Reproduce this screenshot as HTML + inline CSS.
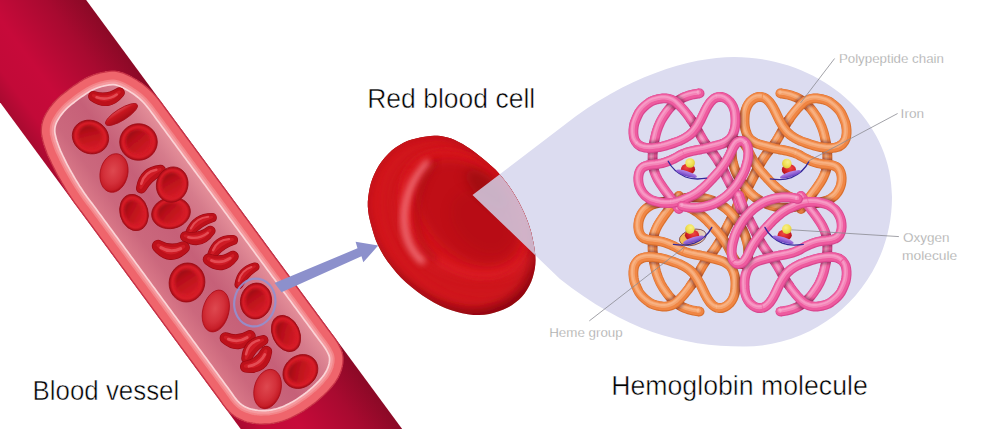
<!DOCTYPE html>
<html><head><meta charset="utf-8"><title>Hemoglobin</title>
<style>html,body{margin:0;padding:0;background:#fff}svg{display:block}text{font-family:"Liberation Sans",sans-serif}</style></head>
<body><svg width="1000" height="429" viewBox="0 0 1000 429">
<rect width="1000" height="429" fill="#fff"/>
<defs>
<linearGradient id="vbody" x1="0" y1="-65" x2="0" y2="65" gradientUnits="userSpaceOnUse">
 <stop offset="0" stop-color="#8b0926"/><stop offset="0.25" stop-color="#a80a30"/>
 <stop offset="0.62" stop-color="#c70a3a"/><stop offset="0.85" stop-color="#c20a38"/><stop offset="1" stop-color="#a80a30"/>
</linearGradient>
<linearGradient id="lumen" x1="0" y1="-51" x2="0" y2="51" gradientUnits="userSpaceOnUse">
 <stop offset="0" stop-color="#e48e99"/><stop offset="0.15" stop-color="#d67c8c"/>
 <stop offset="0.5" stop-color="#c66078"/><stop offset="0.82" stop-color="#cb687d"/><stop offset="1" stop-color="#d97888"/>
</linearGradient>
<linearGradient id="wall" x1="0" y1="-65" x2="0" y2="65" gradientUnits="userSpaceOnUse">
 <stop offset="0" stop-color="#f0696f"/><stop offset="0.5" stop-color="#f27a80"/><stop offset="1" stop-color="#ef666d"/>
</linearGradient>
<radialGradient id="disc" cx="0.5" cy="0.5" r="0.5">
 <stop offset="0" stop-color="#d21a25"/><stop offset="0.84" stop-color="#d61c27"/><stop offset="1" stop-color="#a40a15"/>
</radialGradient>
<linearGradient id="dimple" x1="0.15" y1="0.1" x2="0.85" y2="0.9">
 <stop offset="0" stop-color="#98070f"/><stop offset="0.3" stop-color="#b60f19"/><stop offset="0.65" stop-color="#c4141e"/><stop offset="1" stop-color="#d21b26"/>
</linearGradient>
<radialGradient id="oval" cx="0.45" cy="0.45" r="0.55">
 <stop offset="0" stop-color="#de484f"/><stop offset="0.6" stop-color="#d3303a"/><stop offset="0.9" stop-color="#c61e28"/><stop offset="1" stop-color="#b0111b"/>
</radialGradient>
<linearGradient id="bean" x1="0" y1="0" x2="0" y2="1">
 <stop offset="0" stop-color="#e04650"/><stop offset="0.35" stop-color="#c8161f"/><stop offset="1" stop-color="#a50c16"/>
</linearGradient>
<radialGradient id="bigcell" cx="448" cy="205" r="100" gradientUnits="userSpaceOnUse">
 <stop offset="0" stop-color="#d0141e"/><stop offset="0.6" stop-color="#d0141e"/><stop offset="0.85" stop-color="#b80e18"/><stop offset="1" stop-color="#8e0812"/>
</radialGradient>
<linearGradient id="bigshade" x1="400" y1="150" x2="530" y2="290" gradientUnits="userSpaceOnUse">
 <stop offset="0" stop-color="#e8303a" stop-opacity="0.35"/><stop offset="0.4" stop-color="#d0141e" stop-opacity="0"/>
 <stop offset="0.8" stop-color="#7a0610" stop-opacity="0.25"/><stop offset="1" stop-color="#6a040c" stop-opacity="0.6"/>
</linearGradient>
<radialGradient id="bigdimple" cx="470" cy="215" r="58" gradientUnits="userSpaceOnUse">
 <stop offset="0" stop-color="#b40e18"/><stop offset="0.7" stop-color="#bc1019"/><stop offset="1" stop-color="#cc141e" stop-opacity="0"/>
</radialGradient>
<filter id="b1" x="-0.2" y="-0.2" width="1.4" height="1.4"><feGaussianBlur stdDeviation="1.2"/></filter>
<radialGradient id="redball" cx="0.4" cy="0.35" r="0.7"><stop offset="0" stop-color="#ee4a44"/><stop offset="0.55" stop-color="#d8222a"/><stop offset="1" stop-color="#a81018"/></radialGradient>
<radialGradient id="yelball" cx="0.4" cy="0.35" r="0.7"><stop offset="0" stop-color="#f8f08a"/><stop offset="0.6" stop-color="#f0e050"/><stop offset="1" stop-color="#d8c23a"/></radialGradient>
<linearGradient id="purp" x1="0" y1="0" x2="0" y2="1"><stop offset="0" stop-color="#b68aea"/><stop offset="0.5" stop-color="#9466d6"/><stop offset="1" stop-color="#6a3fc0"/></linearGradient>
<linearGradient id="ringf" x1="0" y1="0" x2="1" y2="0"><stop offset="0" stop-color="#f0b860" stop-opacity="0.2"/><stop offset="0.6" stop-color="#f2a94a" stop-opacity="0.9"/><stop offset="1" stop-color="#f6c050"/></linearGradient>
</defs>
<path d="M472.5,195 L565,124.5 C625,77 690,57 734,57 C820,57 892,118 892,197 C892,280 826,346.5 744,346.5 C680,346.5 625,330 560,279 Z" fill="#dcdcf0"/>
<g transform="translate(43.0,51.0) rotate(53.625)">
<rect x="-200" y="-65" width="900" height="130" fill="url(#vbody)"/>
<defs><path id="win" d="M149.5,64.5 146.8,64.5 143.9,64.5 141.0,64.5 138.0,64.4 135.0,64.3 132.0,64.1 129.0,64.0 126.0,63.7 123.0,63.5 120.1,63.2 117.1,62.9 114.1,62.5 111.1,62.2 108.1,61.8 105.2,61.4 102.2,60.9 99.3,60.4 96.3,59.9 93.4,59.3 90.4,58.7 87.5,58.1 84.6,57.4 81.7,56.6 78.8,55.7 76.0,54.8 73.2,53.8 70.4,52.6 67.7,51.4 65.1,50.0 62.7,48.3 60.4,46.4 58.3,44.3 56.4,42.0 54.7,39.6 53.3,37.1 52.0,34.4 50.9,31.6 49.8,28.8 49.0,25.9 48.2,23.1 47.6,20.1 47.1,17.2 46.7,14.2 46.5,11.2 46.3,8.2 46.3,5.2 46.2,2.2 46.2,-0.7 46.2,-3.7 46.4,-6.7 46.5,-9.7 46.7,-12.7 47.0,-15.7 47.4,-18.7 48.0,-21.6 48.7,-24.5 49.5,-27.4 50.5,-30.2 51.6,-33.0 52.8,-35.7 54.1,-38.4 55.5,-41.0 57.1,-43.5 58.9,-45.9 60.9,-48.0 63.2,-49.9 65.6,-51.6 68.2,-53.1 70.8,-54.6 73.5,-55.9 76.2,-57.1 79.0,-58.3 81.8,-59.3 84.6,-60.4 87.4,-61.2 90.3,-62.0 93.3,-62.7 96.2,-63.2 99.2,-63.7 102.1,-64.0 105.1,-64.2 108.1,-64.3 111.1,-64.4 114.1,-64.4 117.1,-64.4 120.1,-64.4 123.1,-64.4 126.1,-64.4 129.1,-64.4 132.1,-64.4 135.1,-64.4 138.1,-64.4 141.1,-64.4 144.1,-64.4 147.1,-64.4 150.1,-64.4 153.1,-64.4 156.1,-64.4 159.1,-64.4 162.1,-64.4 165.1,-64.4 168.1,-64.4 171.1,-64.4 174.1,-64.4 177.1,-64.4 180.1,-64.4 183.1,-64.4 186.1,-64.4 189.1,-64.4 192.1,-64.4 195.1,-64.4 198.1,-64.4 201.1,-64.4 204.1,-64.4 207.1,-64.4 210.1,-64.4 213.1,-64.4 216.1,-64.4 219.1,-64.4 222.1,-64.4 225.1,-64.4 228.1,-64.4 231.1,-64.4 234.1,-64.4 237.1,-64.4 240.1,-64.4 243.1,-64.4 246.1,-64.4 249.1,-64.4 252.1,-64.4 255.1,-64.4 258.1,-64.4 261.1,-64.4 264.1,-64.4 267.1,-64.4 270.1,-64.4 273.1,-64.4 276.1,-64.4 279.1,-64.4 282.1,-64.4 285.1,-64.4 288.1,-64.4 291.1,-64.4 294.1,-64.4 297.1,-64.4 300.1,-64.4 303.1,-64.4 306.1,-64.4 309.1,-64.4 312.1,-64.4 315.1,-64.4 318.1,-64.4 321.1,-64.4 324.1,-64.4 327.1,-64.4 330.1,-64.4 333.1,-64.4 336.1,-64.4 339.1,-64.4 342.1,-64.4 345.1,-64.4 348.1,-64.4 351.1,-64.4 354.1,-64.4 357.1,-64.4 360.1,-64.4 363.1,-64.4 366.1,-64.4 369.1,-64.4 372.1,-64.4 375.1,-64.4 378.1,-64.4 381.1,-64.4 384.1,-64.4 387.1,-64.4 390.1,-64.4 393.1,-64.4 396.1,-64.4 399.1,-64.4 402.1,-64.5 405.1,-64.4 408.1,-64.3 411.1,-64.0 414.0,-63.6 416.9,-63.0 419.8,-62.2 422.5,-61.0 425.0,-59.6 427.4,-57.8 429.6,-55.9 431.6,-53.7 433.5,-51.4 435.2,-49.0 436.7,-46.4 438.1,-43.7 439.2,-41.0 440.3,-38.2 441.1,-35.3 441.8,-32.4 442.5,-29.5 443.0,-26.6 443.4,-23.6 443.8,-20.6 444.0,-17.6 444.3,-14.7 444.5,-11.7 444.6,-8.7 444.6,-5.7 444.5,-2.7 444.4,0.3 444.3,3.3 444.0,6.3 443.7,9.3 443.3,12.2 442.8,15.2 442.3,18.1 441.6,21.1 440.8,23.9 439.9,26.8 438.9,29.6 437.7,32.3 436.5,35.0 435.0,37.7 433.5,40.2 431.8,42.7 430.1,45.2 428.2,47.5 426.2,49.7 424.1,51.8 421.9,53.9 419.7,55.8 417.2,57.5 414.7,59.0 412.1,60.5 409.4,61.7 406.6,62.7 403.7,63.5 400.8,64.0 397.9,64.4 394.9,64.5 391.9,64.6 388.9,64.5 385.9,64.4 382.9,64.4 379.9,64.4 376.9,64.4 373.9,64.4 370.9,64.4 367.9,64.4 364.9,64.4 361.9,64.4 358.9,64.4 355.9,64.4 352.9,64.4 349.9,64.4 346.9,64.4 343.9,64.4 340.9,64.4 337.9,64.4 334.9,64.4 331.9,64.4 328.9,64.4 325.9,64.4 322.9,64.4 319.9,64.4 316.9,64.4 313.9,64.4 310.9,64.4 307.9,64.4 304.9,64.4 301.9,64.4 298.9,64.4 295.9,64.4 292.9,64.4 289.9,64.4 286.9,64.4 283.9,64.4 280.9,64.4 277.9,64.4 274.9,64.4 271.9,64.4 268.9,64.4 265.9,64.4 262.9,64.4 259.9,64.4 256.9,64.4 253.9,64.4 250.9,64.4 247.9,64.4 244.9,64.4 241.9,64.4 238.9,64.4 235.9,64.4 232.9,64.4 229.9,64.4 226.9,64.4 223.9,64.4 220.9,64.4 217.9,64.4 214.9,64.4 211.9,64.4 208.9,64.4 205.9,64.4 202.9,64.4 199.9,64.4 196.9,64.4 193.9,64.4 190.9,64.4 187.9,64.4 184.9,64.4 181.9,64.4 178.9,64.4 175.9,64.4 172.9,64.4 169.9,64.4 166.9,64.4 163.9,64.4 160.9,64.4 157.9,64.4 155.0,64.4 152.2,64.4Z"/><clipPath id="wclip"><use href="#win"/></clipPath></defs>
<use href="#win" fill="url(#lumen)"/>
<g clip-path="url(#wclip)" fill="none" stroke-linejoin="round">
<use href="#win" stroke="#fbd3d6" stroke-width="28.6"/>
<use href="#win" stroke="#f59a9f" stroke-width="25.2"/>
<use href="#win" stroke="#f38589" stroke-width="20.5"/>
<use href="#win" stroke="#ef656c" stroke-width="16.8"/>
</g>
<use href="#win" fill="none" stroke="#c83246" stroke-width="1.3"/>
</g>
<g transform="translate(107.0,98.5) rotate(-8.0)" stroke-linejoin="round" stroke-linecap="round"><path d="M-13.1,-4.0 Q0,2.1 13.1,-4.0 Q0,8.3 -13.1,-4.0 Z" fill="#9a0812" stroke="#9a0812" stroke-width="10.7"/><path d="M-13.1,-4.0 Q0,2.1 13.1,-4.0 Q0,8.3 -13.1,-4.0 Z" fill="#bd111b" stroke="#bd111b" stroke-width="9.5"/><path d="M-13.1,-4.0 Q0,2.1 13.1,-4.0 Q0,8.3 -13.1,-4.0 Z" fill="#cf1c26" stroke="#cf1c26" stroke-width="2.9" transform="translate(0,-0.8)"/><path d="M-10.2,-2.6 Q0,2.4 10.2,-2.6" fill="none" stroke="#e8555d" stroke-width="2.6" opacity="0.85"/></g>
<ellipse transform="translate(121.5,114.5) rotate(-32.0)" rx="18.5" ry="5.8" fill="url(#bean)" stroke="#a80c18" stroke-width="0.8"/>
<g transform="translate(90.5,137.0) rotate(25.0)"><ellipse rx="18.5" ry="16.5" fill="url(#disc)" stroke="#9c0a14" stroke-width="0.8"/><ellipse cx="-0.6" cy="-0.3" rx="12.2" ry="10.9" fill="url(#dimple)" filter="url(#b1)"/></g>
<g transform="translate(138.5,142.0) rotate(0.0)"><ellipse rx="18.8" ry="18.3" fill="url(#disc)" stroke="#9c0a14" stroke-width="0.8"/><ellipse cx="-0.6" cy="-0.4" rx="12.4" ry="12.1" fill="url(#dimple)" filter="url(#b1)"/></g>
<ellipse transform="translate(114.0,173.0) rotate(12.0)" rx="13.8" ry="19.5" fill="url(#oval)" stroke="#ac0e1a" stroke-width="0.8"/>
<g transform="translate(149.0,177.0) rotate(-43.0)" stroke-linejoin="round" stroke-linecap="round"><path d="M-13.2,2.9 Q0,-7.2 13.2,2.9 Q0,-1.1 -13.2,2.9 Z" fill="#9a0812" stroke="#9a0812" stroke-width="10.6"/><path d="M-13.2,2.9 Q0,-7.2 13.2,2.9 Q0,-1.1 -13.2,2.9 Z" fill="#bd111b" stroke="#bd111b" stroke-width="9.4"/><path d="M-13.2,2.9 Q0,-7.2 13.2,2.9 Q0,-1.1 -13.2,2.9 Z" fill="#cf1c26" stroke="#cf1c26" stroke-width="2.9" transform="translate(0,-0.8)"/><path d="M-10.3,-0.3 Q0,-6.9 10.3,-0.3" fill="none" stroke="#e8555d" stroke-width="2.5" opacity="0.85"/></g>
<g transform="translate(171.0,213.0) rotate(-12.0)"><ellipse rx="19.5" ry="15.5" fill="url(#disc)" stroke="#9c0a14" stroke-width="0.8"/><ellipse cx="-0.6" cy="-0.3" rx="12.9" ry="10.2" fill="url(#dimple)" filter="url(#b1)"/></g>
<g transform="translate(172.2,184.6) rotate(15.0)"><ellipse rx="15.7" ry="17.8" fill="url(#disc)" stroke="#9c0a14" stroke-width="0.8"/><ellipse cx="-0.5" cy="-0.4" rx="10.4" ry="11.7" fill="url(#dimple)" filter="url(#b1)"/></g>
<g transform="translate(134.0,212.5) rotate(-15.0)"><ellipse rx="14.0" ry="18.5" fill="url(#disc)" stroke="#9c0a14" stroke-width="0.8"/><ellipse cx="-0.4" cy="-0.4" rx="9.2" ry="12.2" fill="url(#dimple)" filter="url(#b1)"/></g>
<g transform="translate(199.6,222.8) rotate(-33.7)" stroke-linejoin="round" stroke-linecap="round"><path d="M-13.4,2.7 Q0,-6.3 13.4,2.7 Q0,-1.2 -13.4,2.7 Z" fill="#9a0812" stroke="#9a0812" stroke-width="9.2"/><path d="M-13.4,2.7 Q0,-6.3 13.4,2.7 Q0,-1.2 -13.4,2.7 Z" fill="#bd111b" stroke="#bd111b" stroke-width="8.0"/><path d="M-13.4,2.7 Q0,-6.3 13.4,2.7 Q0,-1.2 -13.4,2.7 Z" fill="#cf1c26" stroke="#cf1c26" stroke-width="2.4" transform="translate(0,-0.6)"/><path d="M-10.5,-0.2 Q0,-6.1 10.5,-0.2" fill="none" stroke="#e8555d" stroke-width="2.1" opacity="0.85"/></g>
<g transform="translate(198.6,237.5) rotate(-12.6)" stroke-linejoin="round" stroke-linecap="round"><path d="M-12.9,-3.9 Q0,2.1 12.9,-3.9 Q0,8.0 -12.9,-3.9 Z" fill="#9a0812" stroke="#9a0812" stroke-width="10.3"/><path d="M-12.9,-3.9 Q0,2.1 12.9,-3.9 Q0,8.0 -12.9,-3.9 Z" fill="#bd111b" stroke="#bd111b" stroke-width="9.1"/><path d="M-12.9,-3.9 Q0,2.1 12.9,-3.9 Q0,8.0 -12.9,-3.9 Z" fill="#cf1c26" stroke="#cf1c26" stroke-width="2.8" transform="translate(0,-0.7)"/><path d="M-10.0,-2.5 Q0,2.3 10.0,-2.5" fill="none" stroke="#e8555d" stroke-width="2.4" opacity="0.85"/></g>
<g transform="translate(170.6,251.0) rotate(3.0)" stroke-linejoin="round" stroke-linecap="round"><path d="M-12.7,-4.2 Q0,2.0 12.7,-4.2 Q0,9.4 -12.7,-4.2 Z" fill="#9a0812" stroke="#9a0812" stroke-width="12.6"/><path d="M-12.7,-4.2 Q0,2.0 12.7,-4.2 Q0,9.4 -12.7,-4.2 Z" fill="#bd111b" stroke="#bd111b" stroke-width="11.4"/><path d="M-12.7,-4.2 Q0,2.0 12.7,-4.2 Q0,9.4 -12.7,-4.2 Z" fill="#cf1c26" stroke="#cf1c26" stroke-width="3.5" transform="translate(0,-0.9)"/><path d="M-9.9,-2.9 Q0,2.4 9.9,-2.9" fill="none" stroke="#e8555d" stroke-width="3.1" opacity="0.85"/></g>
<g transform="translate(221.2,244.9) rotate(-34.7)" stroke-linejoin="round" stroke-linecap="round"><path d="M-12.5,2.7 Q0,-6.7 12.5,2.7 Q0,-1.0 -12.5,2.7 Z" fill="#9a0812" stroke="#9a0812" stroke-width="10.1"/><path d="M-12.5,2.7 Q0,-6.7 12.5,2.7 Q0,-1.0 -12.5,2.7 Z" fill="#bd111b" stroke="#bd111b" stroke-width="8.9"/><path d="M-12.5,2.7 Q0,-6.7 12.5,2.7 Q0,-1.0 -12.5,2.7 Z" fill="#cf1c26" stroke="#cf1c26" stroke-width="2.7" transform="translate(0,-0.7)"/><path d="M-9.7,-0.3 Q0,-6.5 9.7,-0.3" fill="none" stroke="#e8555d" stroke-width="2.4" opacity="0.85"/></g>
<g transform="translate(221.2,262.0) rotate(-7.0)" stroke-linejoin="round" stroke-linecap="round"><path d="M-12.2,-4.0 Q0,2.0 12.2,-4.0 Q0,8.7 -12.2,-4.0 Z" fill="#9a0812" stroke="#9a0812" stroke-width="11.7"/><path d="M-12.2,-4.0 Q0,2.0 12.2,-4.0 Q0,8.7 -12.2,-4.0 Z" fill="#bd111b" stroke="#bd111b" stroke-width="10.5"/><path d="M-12.2,-4.0 Q0,2.0 12.2,-4.0 Q0,8.7 -12.2,-4.0 Z" fill="#cf1c26" stroke="#cf1c26" stroke-width="3.2" transform="translate(0,-0.8)"/><path d="M-9.5,-2.7 Q0,2.2 9.5,-2.7" fill="none" stroke="#e8555d" stroke-width="2.8" opacity="0.85"/></g>
<g transform="translate(187.0,282.5) rotate(12.0)"><ellipse rx="17.8" ry="19.6" fill="url(#disc)" stroke="#9c0a14" stroke-width="0.8"/><ellipse cx="-0.5" cy="-0.4" rx="11.7" ry="12.9" fill="url(#dimple)" filter="url(#b1)"/></g>
<g transform="translate(245.3,274.2) rotate(-47.7)" stroke-linejoin="round" stroke-linecap="round"><path d="M-12.1,2.3 Q0,-5.8 12.1,2.3 Q0,-0.9 -12.1,2.3 Z" fill="#9a0812" stroke="#9a0812" stroke-width="8.8"/><path d="M-12.1,2.3 Q0,-5.8 12.1,2.3 Q0,-0.9 -12.1,2.3 Z" fill="#bd111b" stroke="#bd111b" stroke-width="7.6"/><path d="M-12.1,2.3 Q0,-5.8 12.1,2.3 Q0,-0.9 -12.1,2.3 Z" fill="#cf1c26" stroke="#cf1c26" stroke-width="2.3" transform="translate(0,-0.6)"/><path d="M-9.4,-0.3 Q0,-5.6 9.4,-0.3" fill="none" stroke="#e8555d" stroke-width="2.0" opacity="0.85"/></g>
<ellipse transform="translate(215.8,311.0) rotate(14.0)" rx="13.0" ry="21.3" fill="url(#oval)" stroke="#ac0e1a" stroke-width="0.8"/>
<g transform="translate(256.0,301.0) rotate(10.0)"><ellipse rx="15.5" ry="18.0" fill="url(#disc)" stroke="#9c0a14" stroke-width="0.8"/><ellipse cx="-0.5" cy="-0.4" rx="10.2" ry="11.9" fill="url(#dimple)" filter="url(#b1)"/></g>
<g transform="translate(286.0,333.5) rotate(-25.0)"><ellipse rx="13.5" ry="19.0" fill="url(#disc)" stroke="#9c0a14" stroke-width="0.8"/><ellipse cx="-0.4" cy="-0.4" rx="8.9" ry="12.5" fill="url(#dimple)" filter="url(#b1)"/></g>
<g transform="translate(238.0,341.0) rotate(-5.0)" stroke-linejoin="round" stroke-linecap="round"><path d="M-12.2,-4.0 Q0,2.0 12.2,-4.0 Q0,8.7 -12.2,-4.0 Z" fill="#9a0812" stroke="#9a0812" stroke-width="11.7"/><path d="M-12.2,-4.0 Q0,2.0 12.2,-4.0 Q0,8.7 -12.2,-4.0 Z" fill="#bd111b" stroke="#bd111b" stroke-width="10.5"/><path d="M-12.2,-4.0 Q0,2.0 12.2,-4.0 Q0,8.7 -12.2,-4.0 Z" fill="#cf1c26" stroke="#cf1c26" stroke-width="3.2" transform="translate(0,-0.8)"/><path d="M-9.5,-2.7 Q0,2.2 9.5,-2.7" fill="none" stroke="#e8555d" stroke-width="2.8" opacity="0.85"/></g>
<g transform="translate(252.8,347.5) rotate(-47.5)" stroke-linejoin="round" stroke-linecap="round"><path d="M-12.3,2.8 Q0,-6.9 12.3,2.8 Q0,-1.0 -12.3,2.8 Z" fill="#9a0812" stroke="#9a0812" stroke-width="10.5"/><path d="M-12.3,2.8 Q0,-6.9 12.3,2.8 Q0,-1.0 -12.3,2.8 Z" fill="#bd111b" stroke="#bd111b" stroke-width="9.3"/><path d="M-12.3,2.8 Q0,-6.9 12.3,2.8 Q0,-1.0 -12.3,2.8 Z" fill="#cf1c26" stroke="#cf1c26" stroke-width="2.8" transform="translate(0,-0.7)"/><path d="M-9.6,-0.4 Q0,-6.7 9.6,-0.4" fill="none" stroke="#e8555d" stroke-width="2.5" opacity="0.85"/></g>
<g transform="translate(258.5,362.5) rotate(-36.5)" stroke-linejoin="round" stroke-linecap="round"><path d="M-12.7,-4.1 Q0,2.0 12.7,-4.1 Q0,8.8 -12.7,-4.1 Z" fill="#9a0812" stroke="#9a0812" stroke-width="11.7"/><path d="M-12.7,-4.1 Q0,2.0 12.7,-4.1 Q0,8.8 -12.7,-4.1 Z" fill="#bd111b" stroke="#bd111b" stroke-width="10.5"/><path d="M-12.7,-4.1 Q0,2.0 12.7,-4.1 Q0,8.8 -12.7,-4.1 Z" fill="#cf1c26" stroke="#cf1c26" stroke-width="3.2" transform="translate(0,-0.8)"/><path d="M-9.9,-2.7 Q0,2.3 9.9,-2.7" fill="none" stroke="#e8555d" stroke-width="2.8" opacity="0.85"/></g>
<g transform="translate(300.4,371.5) rotate(-40.0)"><ellipse rx="18.5" ry="15.8" fill="url(#disc)" stroke="#9c0a14" stroke-width="0.8"/><ellipse cx="-0.6" cy="-0.3" rx="12.2" ry="10.4" fill="url(#dimple)" filter="url(#b1)"/></g>
<ellipse transform="translate(267.6,389.0) rotate(15.0)" rx="13.3" ry="20.0" fill="url(#oval)" stroke="#ac0e1a" stroke-width="0.8"/>
<ellipse cx="254.8" cy="302.5" rx="20.5" ry="24" transform="rotate(10 254.8 302.5)" fill="none" stroke="#9290cf" stroke-width="2.2" opacity="0.9"/>
<path d="M274.5,283 L357.5,248.3 L355.6,241.8 L378.2,245.6 L363.3,262.3 L361.5,256.2 L281.5,292.3 Z" fill="#8c90cc"/>
<defs><filter id="b3" x="-0.3" y="-0.3" width="1.6" height="1.6"><feGaussianBlur stdDeviation="3"/></filter><filter id="b5" x="-0.3" y="-0.3" width="1.6" height="1.6"><feGaussianBlur stdDeviation="5.5"/></filter><filter id="b2" x="-0.3" y="-0.3" width="1.6" height="1.6"><feGaussianBlur stdDeviation="1.8"/></filter><clipPath id="bigclip"><path d="M430.6,136.0 434.2,135.8 437.5,135.8 440.7,136.1 444.1,136.7 447.6,137.5 451.1,138.6 454.7,140.1 458.6,141.9 462.6,144.1 466.5,146.4 470.4,149.1 474.5,152.1 478.6,155.2 482.4,158.2 486.0,161.2 489.4,164.2 492.5,167.0 495.3,169.6 497.8,172.3 500.5,175.2 503.1,178.4 505.8,181.7 508.4,185.3 511.3,189.5 514.1,193.9 516.7,198.3 519.2,202.8 521.7,207.7 524.0,212.6 526.0,217.2 527.7,221.4 529.1,225.5 530.3,229.3 531.3,232.6 532.0,235.9 532.8,239.5 533.6,243.3 534.3,247.3 534.9,251.4 535.3,255.8 535.5,260.2 535.3,264.4 534.8,268.7 533.9,273.1 532.7,277.6 531.2,281.8 529.3,285.8 527.0,289.8 524.6,293.6 521.9,296.8 518.9,299.8 515.4,302.6 511.7,305.2 507.8,307.5 503.5,309.4 498.8,311.2 494.0,312.8 489.3,314.0 484.3,314.7 478.9,315.0 473.3,314.9 467.9,314.3 462.3,313.2 456.5,311.7 450.7,310.0 445.2,307.9 439.7,305.5 433.9,302.4 428.1,299.1 422.6,295.5 417.1,291.6 411.5,287.1 406.1,282.4 401.1,277.7 396.5,272.7 391.9,267.1 387.6,261.4 383.9,256.0 380.9,250.7 378.2,245.6 376.1,240.9 374.6,236.8 373.4,233.0 372.2,228.8 371.0,224.5 369.9,220.2 368.9,215.7 368.2,211.0 367.8,206.2 367.8,201.7 368.2,197.2 368.9,192.5 369.8,187.7 370.9,183.2 372.4,178.8 374.3,174.2 376.5,169.7 378.9,165.5 381.7,161.5 384.9,157.5 388.4,153.7 392.0,150.3 395.7,147.5 399.7,144.9 403.6,142.7 407.3,141.0 411.1,139.8 415.1,138.7 419.2,137.7 423.0,137.0 426.8,136.4Z"/></clipPath></defs>
<path d="M430.6,136.0 434.2,135.8 437.5,135.8 440.7,136.1 444.1,136.7 447.6,137.5 451.1,138.6 454.7,140.1 458.6,141.9 462.6,144.1 466.5,146.4 470.4,149.1 474.5,152.1 478.6,155.2 482.4,158.2 486.0,161.2 489.4,164.2 492.5,167.0 495.3,169.6 497.8,172.3 500.5,175.2 503.1,178.4 505.8,181.7 508.4,185.3 511.3,189.5 514.1,193.9 516.7,198.3 519.2,202.8 521.7,207.7 524.0,212.6 526.0,217.2 527.7,221.4 529.1,225.5 530.3,229.3 531.3,232.6 532.0,235.9 532.8,239.5 533.6,243.3 534.3,247.3 534.9,251.4 535.3,255.8 535.5,260.2 535.3,264.4 534.8,268.7 533.9,273.1 532.7,277.6 531.2,281.8 529.3,285.8 527.0,289.8 524.6,293.6 521.9,296.8 518.9,299.8 515.4,302.6 511.7,305.2 507.8,307.5 503.5,309.4 498.8,311.2 494.0,312.8 489.3,314.0 484.3,314.7 478.9,315.0 473.3,314.9 467.9,314.3 462.3,313.2 456.5,311.7 450.7,310.0 445.2,307.9 439.7,305.5 433.9,302.4 428.1,299.1 422.6,295.5 417.1,291.6 411.5,287.1 406.1,282.4 401.1,277.7 396.5,272.7 391.9,267.1 387.6,261.4 383.9,256.0 380.9,250.7 378.2,245.6 376.1,240.9 374.6,236.8 373.4,233.0 372.2,228.8 371.0,224.5 369.9,220.2 368.9,215.7 368.2,211.0 367.8,206.2 367.8,201.7 368.2,197.2 368.9,192.5 369.8,187.7 370.9,183.2 372.4,178.8 374.3,174.2 376.5,169.7 378.9,165.5 381.7,161.5 384.9,157.5 388.4,153.7 392.0,150.3 395.7,147.5 399.7,144.9 403.6,142.7 407.3,141.0 411.1,139.8 415.1,138.7 419.2,137.7 423.0,137.0 426.8,136.4Z" fill="#840710"/>
<g clip-path="url(#bigclip)">
<path d="M430.6,136.0 434.2,135.8 437.5,135.8 440.7,136.1 444.1,136.7 447.6,137.5 451.1,138.6 454.7,140.1 458.6,141.9 462.6,144.1 466.5,146.4 470.4,149.1 474.5,152.1 478.6,155.2 482.4,158.2 486.0,161.2 489.4,164.2 492.5,167.0 495.3,169.6 497.8,172.3 500.5,175.2 503.1,178.4 505.8,181.7 508.4,185.3 511.3,189.5 514.1,193.9 516.7,198.3 519.2,202.8 521.7,207.7 524.0,212.6 526.0,217.2 527.7,221.4 529.1,225.5 530.3,229.3 531.3,232.6 532.0,235.9 532.8,239.5 533.6,243.3 534.3,247.3 534.9,251.4 535.3,255.8 535.5,260.2 535.3,264.4 534.8,268.7 533.9,273.1 532.7,277.6 531.2,281.8 529.3,285.8 527.0,289.8 524.6,293.6 521.9,296.8 518.9,299.8 515.4,302.6 511.7,305.2 507.8,307.5 503.5,309.4 498.8,311.2 494.0,312.8 489.3,314.0 484.3,314.7 478.9,315.0 473.3,314.9 467.9,314.3 462.3,313.2 456.5,311.7 450.7,310.0 445.2,307.9 439.7,305.5 433.9,302.4 428.1,299.1 422.6,295.5 417.1,291.6 411.5,287.1 406.1,282.4 401.1,277.7 396.5,272.7 391.9,267.1 387.6,261.4 383.9,256.0 380.9,250.7 378.2,245.6 376.1,240.9 374.6,236.8 373.4,233.0 372.2,228.8 371.0,224.5 369.9,220.2 368.9,215.7 368.2,211.0 367.8,206.2 367.8,201.7 368.2,197.2 368.9,192.5 369.8,187.7 370.9,183.2 372.4,178.8 374.3,174.2 376.5,169.7 378.9,165.5 381.7,161.5 384.9,157.5 388.4,153.7 392.0,150.3 395.7,147.5 399.7,144.9 403.6,142.7 407.3,141.0 411.1,139.8 415.1,138.7 419.2,137.7 423.0,137.0 426.8,136.4Z" fill="#d3141e" filter="url(#b5)" transform="translate(445,217) scale(1.03) translate(-452,-225)"/>
<path d="M430.6,136.0 434.2,135.8 437.5,135.8 440.7,136.1 444.1,136.7 447.6,137.5 451.1,138.6 454.7,140.1 458.6,141.9 462.6,144.1 466.5,146.4 470.4,149.1 474.5,152.1 478.6,155.2 482.4,158.2 486.0,161.2 489.4,164.2 492.5,167.0 495.3,169.6 497.8,172.3 500.5,175.2 503.1,178.4 505.8,181.7 508.4,185.3 511.3,189.5 514.1,193.9 516.7,198.3 519.2,202.8 521.7,207.7 524.0,212.6 526.0,217.2 527.7,221.4 529.1,225.5 530.3,229.3 531.3,232.6 532.0,235.9 532.8,239.5 533.6,243.3 534.3,247.3 534.9,251.4 535.3,255.8 535.5,260.2 535.3,264.4 534.8,268.7 533.9,273.1 532.7,277.6 531.2,281.8 529.3,285.8 527.0,289.8 524.6,293.6 521.9,296.8 518.9,299.8 515.4,302.6 511.7,305.2 507.8,307.5 503.5,309.4 498.8,311.2 494.0,312.8 489.3,314.0 484.3,314.7 478.9,315.0 473.3,314.9 467.9,314.3 462.3,313.2 456.5,311.7 450.7,310.0 445.2,307.9 439.7,305.5 433.9,302.4 428.1,299.1 422.6,295.5 417.1,291.6 411.5,287.1 406.1,282.4 401.1,277.7 396.5,272.7 391.9,267.1 387.6,261.4 383.9,256.0 380.9,250.7 378.2,245.6 376.1,240.9 374.6,236.8 373.4,233.0 372.2,228.8 371.0,224.5 369.9,220.2 368.9,215.7 368.2,211.0 367.8,206.2 367.8,201.7 368.2,197.2 368.9,192.5 369.8,187.7 370.9,183.2 372.4,178.8 374.3,174.2 376.5,169.7 378.9,165.5 381.7,161.5 384.9,157.5 388.4,153.7 392.0,150.3 395.7,147.5 399.7,144.9 403.6,142.7 407.3,141.0 411.1,139.8 415.1,138.7 419.2,137.7 423.0,137.0 426.8,136.4Z" fill="none" stroke="#a80c16" stroke-width="5" filter="url(#b3)" opacity="0.45"/>
<ellipse cx="462" cy="222" rx="88" ry="68" transform="rotate(45 462 222)" fill="#c8121c" filter="url(#b5)" opacity="0.4"/>
<ellipse cx="464" cy="214" rx="74" ry="54" transform="rotate(45 464 214)" fill="#d8161f" filter="url(#b3)" opacity="0.9"/>
<path d="M410,178 C396,205 402,238 426,256 C446,271 476,279 504,272 C516,269 524,263 529,256" fill="none" stroke="#e8343c" stroke-width="7" stroke-linecap="round" filter="url(#b5)" opacity="0.4"/>
<ellipse cx="469" cy="213" rx="62" ry="43" transform="rotate(45 469 213)" fill="#b80f19" filter="url(#b5)" opacity="0.75"/>
<ellipse cx="482" cy="222" rx="36" ry="26" transform="rotate(45 482 222)" fill="#9c0a13" filter="url(#b5)" opacity="0.22"/>
<ellipse cx="487" cy="189" rx="27" ry="11" transform="rotate(42 487 189)" fill="#8a0711" filter="url(#b5)" opacity="0.55"/>
<path d="M427,163 C408,183 399,212 407,238 C410,247 415,255 422,261" fill="none" stroke="#f47c82" stroke-width="6.5" stroke-linecap="round" filter="url(#b3)" opacity="0.9"/>
<path d="M436,162 C420,182 412,211 420,236 C423,245 428,252 434,258" fill="none" stroke="#a60c16" stroke-width="6" stroke-linecap="round" filter="url(#b3)" opacity="0.5"/>
</g>
<g clip-path="url(#bigclip)"><path d="M472.5,195 L565,124.5 C625,77 690,57 734,57 C820,57 892,118 892,197 C892,280 826,346.5 744,346.5 C680,346.5 625,330 560,279 Z" fill="#d2d2ea" opacity="0.84"/></g>
<g fill="#000" stroke="#fff" stroke-width="0.5">
<text id="t1" x="367.2" y="107.8" font-size="27" textLength="168" lengthAdjust="spacingAndGlyphs">Red blood cell</text>
<text id="t2" x="32.6" y="399.9" font-size="27" textLength="146.6" lengthAdjust="spacingAndGlyphs">Blood vessel</text>
<text id="t3" x="611.2" y="394.6" font-size="27" textLength="256.6" lengthAdjust="spacingAndGlyphs">Hemoglobin molecule</text>
</g>
<g fill="#a4a4a4" font-size="13.5" stroke="#fff" stroke-width="0.25">
<text x="838.9" y="62.7" textLength="105" lengthAdjust="spacingAndGlyphs">Polypeptide chain</text>
<text x="900.6" y="117.6" textLength="23.5" lengthAdjust="spacingAndGlyphs">Iron</text>
<text x="903" y="242.4" textLength="46.5" lengthAdjust="spacingAndGlyphs">Oxygen</text>
<text x="902" y="259.5" textLength="55.2" lengthAdjust="spacingAndGlyphs">molecule</text>
<text x="549.2" y="336.9" textLength="73.5" lengthAdjust="spacingAndGlyphs">Heme group</text>
</g>
<g fill="none" stroke-linejoin="round" stroke-linecap="butt"><defs><path id="p1" d="M780.4,93.4 783.4,93.8 786.3,94.3 789.2,95.0 792.1,95.8 794.9,96.8 797.6,98.0 800.2,99.5 802.6,101.2 805.0,103.0 807.2,105.0 809.3,107.1 811.3,109.4 813.1,111.7 814.8,114.2 816.5,116.6 818.1,119.2 819.5,121.8 820.7,124.5 821.9,127.3 822.9,130.1 823.8,133.0 824.5,135.9 825.2,138.8 825.8,141.7 826.4,144.7 826.8,147.6 827.0,150.6 827.3,153.6 827.4,156.6 827.4,159.6 827.2,162.6 826.9,165.5 826.4,168.5 825.7,171.3 824.7,174.1 823.5,176.9 822.2,179.5 820.6,182.1 819.0,184.6 817.3,187.1 815.6,189.5 813.8,191.9 812.0,194.3 810.2,196.7 808.4,199.1 806.6,201.5 804.8,203.9 803.2,206.1 801.7,208.1 801.0,209.0"/><path id="p1d" d="M780.4,93.4 783.4,93.8 786.3,94.3 789.2,95.0 792.1,95.8 794.9,96.8 797.6,98.0 800.2,99.5 802.6,101.2 805.0,103.0 807.2,105.0 809.3,107.1 811.3,109.4 813.1,111.7 814.8,114.2 816.5,116.6 818.1,119.2 819.5,121.8 820.7,124.5 821.9,127.3 822.9,130.1 823.8,133.0 824.5,135.9 825.2,138.8 825.8,141.7 826.4,144.7 826.8,147.6 827.0,150.6 827.3,153.6 827.4,156.6 827.4,159.6 827.2,162.6 826.9,165.5 826.4,168.5 825.7,171.3 824.7,174.1 823.5,176.9 822.2,179.5 820.6,182.1 819.0,184.6 817.3,187.1 815.6,189.5 813.8,191.9 812.0,194.3 810.2,196.7 808.4,199.1 806.6,201.5 804.8,203.9 803.2,206.1 801.7,208.1 801.0,209.0"/><path id="p1t" d="M792.1,95.8 794.9,96.8 797.6,98.0 800.2,99.5 802.6,101.2 805.0,103.0 807.2,105.0 809.3,107.1 811.3,109.4 813.1,111.7 814.8,114.2 816.5,116.6 818.1,119.2 819.5,121.8 820.7,124.5 821.9,127.3 822.9,130.1 823.8,133.0 824.5,135.9 825.2,138.8 825.8,141.7 826.4,144.7 826.8,147.6 827.0,150.6 827.3,153.6 827.4,156.6 827.4,159.6 827.2,162.6 826.9,165.5 826.4,168.5 825.7,171.3 824.7,174.1 823.5,176.9 822.2,179.5 820.6,182.1 819.0,184.6 817.3,187.1 815.6,189.5 813.8,191.9 812.0,194.3 810.2,196.7 808.4,199.1 806.6,201.5"/><g id="a1"><use href="#p1" fill="none" stroke="#fff" stroke-width="9.8" stroke-linecap="round"/></g></defs><use href="#p1d" stroke="#d9702f" stroke-width="9.8"/><circle cx="780.4" cy="93.4" r="4.90" fill="#d9702f" stroke="none"/><circle cx="801.0" cy="209.0" r="4.90" fill="#d9702f" stroke="none"/><use href="#p1" stroke="#f08644" stroke-width="8.4" transform="translate(-0.35,-0.45)"/><circle cx="780.4" cy="93.4" r="4.20" fill="#f08644" stroke="none" transform="translate(-0.35,-0.45)"/><circle cx="801.0" cy="209.0" r="4.20" fill="#f08644" stroke="none" transform="translate(-0.35,-0.45)"/><use href="#p1" stroke="#fbc29a" stroke-width="4.4" transform="translate(-0.90,-1.10)" opacity="0.48"/><circle cx="780.4" cy="93.4" r="2.20" fill="#fbc29a" stroke="none" transform="translate(-0.90,-1.10)" opacity="0.48"/><circle cx="801.0" cy="209.0" r="2.20" fill="#fbc29a" stroke="none" transform="translate(-0.90,-1.10)" opacity="0.48"/><use href="#p1" stroke="#fbc29a" stroke-width="1.8" transform="translate(-1.30,-1.60)" opacity="0.50"/><circle cx="780.4" cy="93.4" r="0.88" fill="#fbc29a" stroke="none" transform="translate(-1.30,-1.60)" opacity="0.50"/><circle cx="801.0" cy="209.0" r="0.88" fill="#fbc29a" stroke="none" transform="translate(-1.30,-1.60)" opacity="0.50"/></g>
<g fill="none" stroke-linejoin="round" stroke-linecap="butt"><defs><path id="p2" d="M739.0,209.6 740.0,206.8 741.0,203.9 742.0,201.1 743.1,198.3 744.3,195.6 745.5,192.8 746.8,190.1 748.1,187.4 749.5,184.8 750.9,182.1 752.2,179.4 753.6,176.7 754.8,174.0 756.2,171.3 757.5,168.7 758.9,166.0 760.4,163.4 762.0,160.9 763.6,158.3 765.3,155.8 767.0,153.4 768.8,151.0 770.6,148.6 772.5,146.3 774.3,143.9 776.0,141.4 777.6,138.9 779.1,136.3 780.5,133.7 782.0,131.1 783.4,128.4 784.9,125.8 786.5,123.3 788.1,120.8 789.9,118.3"/><path id="p2d" d="M739.0,209.6 740.0,206.8 741.0,203.9 742.0,201.1 743.1,198.3 744.3,195.6 745.5,192.8 746.8,190.1 748.1,187.4 749.5,184.8 750.9,182.1 752.2,179.4 753.6,176.7 754.8,174.0 756.2,171.3 757.5,168.7 758.9,166.0 760.4,163.4 762.0,160.9 763.6,158.3 765.3,155.8 767.0,153.4 768.8,151.0 770.6,148.6 772.5,146.3 774.3,143.9 776.0,141.4 777.6,138.9 779.1,136.3 780.5,133.7 782.0,131.1 783.4,128.4 784.9,125.8 786.5,123.3 788.1,120.8 789.9,118.3"/><path id="p2t" d="M743.1,198.3 744.3,195.6 745.5,192.8 746.8,190.1 748.1,187.4 749.5,184.8 750.9,182.1 752.2,179.4 753.6,176.7 754.8,174.0 756.2,171.3 757.5,168.7 758.9,166.0 760.4,163.4 762.0,160.9 763.6,158.3 765.3,155.8 767.0,153.4 768.8,151.0 770.6,148.6 772.5,146.3 774.3,143.9 776.0,141.4 777.6,138.9 779.1,136.3 780.5,133.7 782.0,131.1 783.4,128.4"/><mask id="m1" maskUnits="userSpaceOnUse" x="600" y="60" width="300" height="290"><use href="#a1"/></mask><g id="a2"><use href="#a1"/><use href="#p2" fill="none" stroke="#fff" stroke-width="9.8" stroke-linecap="round"/></g></defs><use href="#p2t" stroke="#3a0a20" stroke-opacity="0.42" stroke-width="13.3" filter="url(#b2)" mask="url(#m1)" stroke-linecap="butt"/><use href="#p2d" stroke="#d9702f" stroke-width="9.8"/><circle cx="739.0" cy="209.6" r="4.90" fill="#d9702f" stroke="none"/><use href="#p2" stroke="#f08644" stroke-width="8.4" transform="translate(-0.35,-0.45)"/><circle cx="739.0" cy="209.6" r="4.20" fill="#f08644" stroke="none" transform="translate(-0.35,-0.45)"/><use href="#p2" stroke="#fbc29a" stroke-width="4.4" transform="translate(-0.90,-1.10)" opacity="0.48"/><circle cx="739.0" cy="209.6" r="2.20" fill="#fbc29a" stroke="none" transform="translate(-0.90,-1.10)" opacity="0.48"/><use href="#p2" stroke="#fbc29a" stroke-width="1.8" transform="translate(-1.30,-1.60)" opacity="0.50"/><circle cx="739.0" cy="209.6" r="0.88" fill="#fbc29a" stroke="none" transform="translate(-1.30,-1.60)" opacity="0.50"/></g><g fill="none" stroke-linejoin="round" stroke-linecap="butt"><defs><path id="p3" d="M786.5,123.3 788.1,120.8 789.9,118.3 791.6,115.9 793.5,113.5 795.3,111.2 797.3,108.9 799.3,106.7 801.4,104.6 803.5,102.6 805.9,100.9 808.5,99.7 811.3,98.8 814.2,98.4 817.1,98.4 820.0,98.8 822.9,99.4 825.8,100.2 828.5,101.3 831.0,102.8 833.4,104.6 835.6,106.5 837.8,108.6 839.7,110.9 841.3,113.3 842.6,116.0 843.8,118.7 844.9,121.5 845.8,124.3 846.3,127.2 846.6,130.2 846.6,133.2 846.3,136.1 845.7,138.9 844.5,141.4 842.8,143.7 840.7,145.5 838.2,146.8"/><path id="p3d" d="M788.1,120.8 789.9,118.3 791.6,115.9 793.5,113.5 795.3,111.2 797.3,108.9 799.3,106.7 801.4,104.6 803.5,102.6 805.9,100.9 808.5,99.7 811.3,98.8 814.2,98.4 817.1,98.4 820.0,98.8 822.9,99.4 825.8,100.2 828.5,101.3 831.0,102.8 833.4,104.6 835.6,106.5 837.8,108.6 839.7,110.9 841.3,113.3 842.6,116.0 843.8,118.7 844.9,121.5 845.8,124.3 846.3,127.2 846.6,130.2 846.6,133.2 846.3,136.1 845.7,138.9 844.5,141.4 842.8,143.7 840.7,145.5 838.2,146.8"/><path id="p3t" d="M793.5,113.5 795.3,111.2 797.3,108.9 799.3,106.7 801.4,104.6 803.5,102.6 805.9,100.9 808.5,99.7 811.3,98.8 814.2,98.4 817.1,98.4 820.0,98.8 822.9,99.4 825.8,100.2 828.5,101.3 831.0,102.8 833.4,104.6 835.6,106.5 837.8,108.6 839.7,110.9 841.3,113.3 842.6,116.0 843.8,118.7 844.9,121.5 845.8,124.3 846.3,127.2 846.6,130.2 846.6,133.2 846.3,136.1 845.7,138.9"/><mask id="m2" maskUnits="userSpaceOnUse" x="600" y="60" width="300" height="290"><use href="#a2"/></mask><g id="a3"><use href="#a2"/><use href="#p3" fill="none" stroke="#fff" stroke-width="9.8" stroke-linecap="round"/></g></defs><use href="#p3t" stroke="#3a0a20" stroke-opacity="0.42" stroke-width="13.3" filter="url(#b2)" mask="url(#m2)" stroke-linecap="butt"/><use href="#p3d" stroke="#d9702f" stroke-width="9.8"/><use href="#p3" stroke="#f08644" stroke-width="8.4" transform="translate(-0.35,-0.45)"/><use href="#p3" stroke="#fbc29a" stroke-width="4.4" transform="translate(-0.90,-1.10)" opacity="0.48"/><use href="#p3" stroke="#fbc29a" stroke-width="1.8" transform="translate(-1.30,-1.60)" opacity="0.50"/></g><g fill="none" stroke-linejoin="round" stroke-linecap="butt"><defs><path id="p4" d="M842.8,143.7 840.7,145.5 838.2,146.8 835.4,147.6 832.4,148.0 829.5,148.1 826.5,147.9 823.6,147.5 820.6,147.1 817.7,146.5 814.8,145.8 811.9,144.9 809.1,144.0 806.2,143.0 803.4,142.0 800.6,141.0 797.9,139.7 795.3,138.3 792.7,136.7 790.3,135.0 788.1,133.0 786.1,130.8 784.4,128.5 782.7,126.0 781.2,123.4 779.7,120.8 778.4,118.1 777.1,115.4 775.8,112.7 774.5,110.0 773.1,107.4 771.5,104.8 769.8,102.4 767.8,100.3 765.6,98.5 763.0,97.3 760.3,96.9 757.6,97.2"/><path id="p4d" d="M840.7,145.5 838.2,146.8 835.4,147.6 832.4,148.0 829.5,148.1 826.5,147.9 823.6,147.5 820.6,147.1 817.7,146.5 814.8,145.8 811.9,144.9 809.1,144.0 806.2,143.0 803.4,142.0 800.6,141.0 797.9,139.7 795.3,138.3 792.7,136.7 790.3,135.0 788.1,133.0 786.1,130.8 784.4,128.5 782.7,126.0 781.2,123.4 779.7,120.8 778.4,118.1 777.1,115.4 775.8,112.7 774.5,110.0 773.1,107.4 771.5,104.8 769.8,102.4 767.8,100.3 765.6,98.5 763.0,97.3 760.3,96.9 757.6,97.2"/><path id="p4t" d="M832.4,148.0 829.5,148.1 826.5,147.9 823.6,147.5 820.6,147.1 817.7,146.5 814.8,145.8 811.9,144.9 809.1,144.0 806.2,143.0 803.4,142.0 800.6,141.0 797.9,139.7 795.3,138.3 792.7,136.7 790.3,135.0 788.1,133.0 786.1,130.8 784.4,128.5 782.7,126.0 781.2,123.4 779.7,120.8 778.4,118.1 777.1,115.4 775.8,112.7 774.5,110.0 773.1,107.4 771.5,104.8 769.8,102.4 767.8,100.3"/><mask id="m3" maskUnits="userSpaceOnUse" x="600" y="60" width="300" height="290"><use href="#a3"/></mask><g id="a4"><use href="#a3"/><use href="#p4" fill="none" stroke="#fff" stroke-width="9.8" stroke-linecap="round"/></g></defs><use href="#p4t" stroke="#3a0a20" stroke-opacity="0.42" stroke-width="13.3" filter="url(#b2)" mask="url(#m3)" stroke-linecap="butt"/><use href="#p4d" stroke="#d9702f" stroke-width="9.8"/><use href="#p4" stroke="#f08644" stroke-width="8.4" transform="translate(-0.35,-0.45)"/><use href="#p4" stroke="#fbc29a" stroke-width="4.4" transform="translate(-0.90,-1.10)" opacity="0.48"/><use href="#p4" stroke="#fbc29a" stroke-width="1.8" transform="translate(-1.30,-1.60)" opacity="0.50"/></g><g fill="none" stroke-linejoin="round" stroke-linecap="butt"><defs><path id="p5" d="M763.0,97.3 760.3,96.9 757.6,97.2 754.9,98.2 752.5,99.7 750.3,101.6 748.5,103.9 747.1,106.4 746.0,109.2 745.2,112.0 744.8,114.9 744.6,117.9 744.5,120.9 744.6,123.9 744.9,126.8 745.5,129.7 746.4,132.5 747.4,135.3 748.9,137.7 750.8,139.8 753.2,141.5 755.7,143.0 758.5,144.1 761.3,145.0 764.2,145.8 767.1,146.5 770.0,147.3 772.9,148.0 775.8,148.7 778.8,149.3 781.7,149.8 784.6,150.4 787.6,151.0 790.5,151.7 793.3,152.5 796.1,153.6 798.8,154.8 801.4,156.2"/><path id="p5d" d="M760.3,96.9 757.6,97.2 754.9,98.2 752.5,99.7 750.3,101.6 748.5,103.9 747.1,106.4 746.0,109.2 745.2,112.0 744.8,114.9 744.6,117.9 744.5,120.9 744.6,123.9 744.9,126.8 745.5,129.7 746.4,132.5 747.4,135.3 748.9,137.7 750.8,139.8 753.2,141.5 755.7,143.0 758.5,144.1 761.3,145.0 764.2,145.8 767.1,146.5 770.0,147.3 772.9,148.0 775.8,148.7 778.8,149.3 781.7,149.8 784.6,150.4 787.6,151.0 790.5,151.7 793.3,152.5 796.1,153.6 798.8,154.8 801.4,156.2"/><path id="p5t" d="M752.5,99.7 750.3,101.6 748.5,103.9 747.1,106.4 746.0,109.2 745.2,112.0 744.8,114.9 744.6,117.9 744.5,120.9 744.6,123.9 744.9,126.8 745.5,129.7 746.4,132.5 747.4,135.3 748.9,137.7 750.8,139.8 753.2,141.5 755.7,143.0 758.5,144.1 761.3,145.0 764.2,145.8 767.1,146.5 770.0,147.3 772.9,148.0 775.8,148.7 778.8,149.3 781.7,149.8 784.6,150.4 787.6,151.0 790.5,151.7"/><mask id="m4" maskUnits="userSpaceOnUse" x="600" y="60" width="300" height="290"><use href="#a4"/></mask><g id="a5"><use href="#a4"/><use href="#p5" fill="none" stroke="#fff" stroke-width="9.8" stroke-linecap="round"/></g></defs><use href="#p5t" stroke="#3a0a20" stroke-opacity="0.42" stroke-width="13.3" filter="url(#b2)" mask="url(#m4)" stroke-linecap="butt"/><use href="#p5d" stroke="#d9702f" stroke-width="9.8"/><use href="#p5" stroke="#f08644" stroke-width="8.4" transform="translate(-0.35,-0.45)"/><use href="#p5" stroke="#fbc29a" stroke-width="4.4" transform="translate(-0.90,-1.10)" opacity="0.48"/><use href="#p5" stroke="#fbc29a" stroke-width="1.8" transform="translate(-1.30,-1.60)" opacity="0.50"/></g><g fill="none" stroke-linejoin="round" stroke-linecap="butt"><defs><path id="p6" d="M796.1,153.6 798.8,154.8 801.4,156.2 804.1,157.7 806.7,159.1 809.4,160.3 812.2,161.4 815.0,162.4 817.9,163.2 820.8,163.8 823.8,164.2 826.8,164.5 829.7,164.9 832.6,165.4 835.3,166.3 837.6,167.7 839.4,169.8 840.7,172.4 841.4,175.2 841.7,178.1 841.6,181.0 841.2,183.9 840.4,186.8 839.2,189.5 837.8,192.0 836.0,194.4 833.9,196.4 831.5,198.2 829.0,199.7 826.3,200.8 823.5,201.6 820.6,202.3 817.7,202.9 814.7,203.1 811.7,203.2 808.7,203.0 805.8,202.6 802.9,202.0"/><path id="p6d" d="M798.8,154.8 801.4,156.2 804.1,157.7 806.7,159.1 809.4,160.3 812.2,161.4 815.0,162.4 817.9,163.2 820.8,163.8 823.8,164.2 826.8,164.5 829.7,164.9 832.6,165.4 835.3,166.3 837.6,167.7 839.4,169.8 840.7,172.4 841.4,175.2 841.7,178.1 841.6,181.0 841.2,183.9 840.4,186.8 839.2,189.5 837.8,192.0 836.0,194.4 833.9,196.4 831.5,198.2 829.0,199.7 826.3,200.8 823.5,201.6 820.6,202.3 817.7,202.9 814.7,203.1 811.7,203.2 808.7,203.0 805.8,202.6 802.9,202.0"/><path id="p6t" d="M806.7,159.1 809.4,160.3 812.2,161.4 815.0,162.4 817.9,163.2 820.8,163.8 823.8,164.2 826.8,164.5 829.7,164.9 832.6,165.4 835.3,166.3 837.6,167.7 839.4,169.8 840.7,172.4 841.4,175.2 841.7,178.1 841.6,181.0 841.2,183.9 840.4,186.8 839.2,189.5 837.8,192.0 836.0,194.4 833.9,196.4 831.5,198.2 829.0,199.7 826.3,200.8 823.5,201.6 820.6,202.3 817.7,202.9 814.7,203.1"/><mask id="m5" maskUnits="userSpaceOnUse" x="600" y="60" width="300" height="290"><use href="#a5"/></mask><g id="a6"><use href="#a5"/><use href="#p6" fill="none" stroke="#fff" stroke-width="9.8" stroke-linecap="round"/></g></defs><use href="#p6t" stroke="#3a0a20" stroke-opacity="0.42" stroke-width="13.3" filter="url(#b2)" mask="url(#m5)" stroke-linecap="butt"/><use href="#p6d" stroke="#d9702f" stroke-width="9.8"/><use href="#p6" stroke="#f08644" stroke-width="8.4" transform="translate(-0.35,-0.45)"/><use href="#p6" stroke="#fbc29a" stroke-width="4.4" transform="translate(-0.90,-1.10)" opacity="0.48"/><use href="#p6" stroke="#fbc29a" stroke-width="1.8" transform="translate(-1.30,-1.60)" opacity="0.50"/></g><g fill="none" stroke-linejoin="round" stroke-linecap="butt"><defs><path id="p7" d="M808.7,203.0 805.8,202.6 802.9,202.0 800.0,201.2 797.2,200.1 794.5,198.9 791.8,197.7 789.0,196.5 786.4,195.1 783.9,193.5 781.4,191.8 779.1,189.9 776.8,188.0 774.6,186.0 772.5,183.9 770.4,181.7 768.4,179.5 766.3,177.3 764.3,175.1 762.3,172.8 760.4,170.5 758.6,168.2 756.8,165.7 755.1,163.3 753.5,160.8 752.0,158.2 750.6,155.5 749.3,152.8 748.0,150.1 746.7,147.5 745.1,145.0 743.3,142.8 741.0,141.4 738.6,140.8 736.2,141.4 734.3,143.1 732.9,145.4 732.1,148.1"/><path id="p7d" d="M805.8,202.6 802.9,202.0 800.0,201.2 797.2,200.1 794.5,198.9 791.8,197.7 789.0,196.5 786.4,195.1 783.9,193.5 781.4,191.8 779.1,189.9 776.8,188.0 774.6,186.0 772.5,183.9 770.4,181.7 768.4,179.5 766.3,177.3 764.3,175.1 762.3,172.8 760.4,170.5 758.6,168.2 756.8,165.7 755.1,163.3 753.5,160.8 752.0,158.2 750.6,155.5 749.3,152.8 748.0,150.1 746.7,147.5 745.1,145.0 743.3,142.8 741.0,141.4 738.6,140.8 736.2,141.4 734.3,143.1 732.9,145.4 732.1,148.1"/><path id="p7t" d="M797.2,200.1 794.5,198.9 791.8,197.7 789.0,196.5 786.4,195.1 783.9,193.5 781.4,191.8 779.1,189.9 776.8,188.0 774.6,186.0 772.5,183.9 770.4,181.7 768.4,179.5 766.3,177.3 764.3,175.1 762.3,172.8 760.4,170.5 758.6,168.2 756.8,165.7 755.1,163.3 753.5,160.8 752.0,158.2 750.6,155.5 749.3,152.8 748.0,150.1 746.7,147.5 745.1,145.0 743.3,142.8 741.0,141.4 738.6,140.8"/><mask id="m6" maskUnits="userSpaceOnUse" x="600" y="60" width="300" height="290"><use href="#a6"/></mask><g id="a7"><use href="#a6"/><use href="#p7" fill="none" stroke="#fff" stroke-width="9.8" stroke-linecap="round"/></g></defs><use href="#p7t" stroke="#3a0a20" stroke-opacity="0.42" stroke-width="13.3" filter="url(#b2)" mask="url(#m6)" stroke-linecap="butt"/><use href="#p7d" stroke="#d9702f" stroke-width="9.8"/><use href="#p7" stroke="#f08644" stroke-width="8.4" transform="translate(-0.35,-0.45)"/><use href="#p7" stroke="#fbc29a" stroke-width="4.4" transform="translate(-0.90,-1.10)" opacity="0.48"/><use href="#p7" stroke="#fbc29a" stroke-width="1.8" transform="translate(-1.30,-1.60)" opacity="0.50"/></g><g fill="none" stroke-linejoin="round" stroke-linecap="butt"><defs><path id="p8" d="M734.3,143.1 732.9,145.4 732.1,148.1 731.7,151.0 731.7,154.0 731.9,157.0 732.3,159.9 733.0,162.8 733.8,165.7 734.6,168.6 735.7,171.4 736.9,174.1 738.3,176.7 739.8,179.3 741.3,181.9 742.9,184.4 744.7,186.8 746.7,189.1 748.7,191.3 750.7,193.5 752.9,195.5 755.2,197.4 757.7,199.1 760.2,200.7 762.8,202.2 765.4,203.5 768.2,204.6 771.1,205.5 773.9,206.2 776.9,206.9 779.8,207.3 782.8,207.6 785.8,207.7 788.8,207.6 791.7,207.3 794.4,206.9 796.9,206.3 798.0,206.0"/><path id="p8d" d="M732.9,145.4 732.1,148.1 731.7,151.0 731.7,154.0 731.9,157.0 732.3,159.9 733.0,162.8 733.8,165.7 734.6,168.6 735.7,171.4 736.9,174.1 738.3,176.7 739.8,179.3 741.3,181.9 742.9,184.4 744.7,186.8 746.7,189.1 748.7,191.3 750.7,193.5 752.9,195.5 755.2,197.4 757.7,199.1 760.2,200.7 762.8,202.2 765.4,203.5 768.2,204.6 771.1,205.5 773.9,206.2 776.9,206.9 779.8,207.3 782.8,207.6 785.8,207.7 788.8,207.6 791.7,207.3 794.4,206.9 796.9,206.3 798.0,206.0"/><path id="p8t" d="M731.7,154.0 731.9,157.0 732.3,159.9 733.0,162.8 733.8,165.7 734.6,168.6 735.7,171.4 736.9,174.1 738.3,176.7 739.8,179.3 741.3,181.9 742.9,184.4 744.7,186.8 746.7,189.1 748.7,191.3 750.7,193.5 752.9,195.5 755.2,197.4 757.7,199.1 760.2,200.7 762.8,202.2 765.4,203.5 768.2,204.6 771.1,205.5 773.9,206.2 776.9,206.9 779.8,207.3 782.8,207.6 785.8,207.7 788.8,207.6"/><mask id="m7" maskUnits="userSpaceOnUse" x="600" y="60" width="300" height="290"><use href="#a7"/></mask><g id="a8"><use href="#a7"/><use href="#p8" fill="none" stroke="#fff" stroke-width="9.8" stroke-linecap="round"/></g></defs><use href="#p8t" stroke="#3a0a20" stroke-opacity="0.42" stroke-width="13.3" filter="url(#b2)" mask="url(#m7)" stroke-linecap="butt"/><use href="#p8d" stroke="#d9702f" stroke-width="9.8"/><circle cx="798.0" cy="206.0" r="4.90" fill="#d9702f" stroke="none"/><use href="#p8" stroke="#f08644" stroke-width="8.4" transform="translate(-0.35,-0.45)"/><circle cx="798.0" cy="206.0" r="4.20" fill="#f08644" stroke="none" transform="translate(-0.35,-0.45)"/><use href="#p8" stroke="#fbc29a" stroke-width="4.4" transform="translate(-0.90,-1.10)" opacity="0.48"/><circle cx="798.0" cy="206.0" r="2.20" fill="#fbc29a" stroke="none" transform="translate(-0.90,-1.10)" opacity="0.48"/><use href="#p8" stroke="#fbc29a" stroke-width="1.8" transform="translate(-1.30,-1.60)" opacity="0.50"/><circle cx="798.0" cy="206.0" r="0.88" fill="#fbc29a" stroke="none" transform="translate(-1.30,-1.60)" opacity="0.50"/></g>
<g fill="none" stroke-linejoin="round" stroke-linecap="butt"><defs><path id="p9" d="M699.6,311.6 696.6,311.2 693.7,310.7 690.8,310.0 687.9,309.2 685.1,308.2 682.4,307.0 679.8,305.5 677.4,303.8 675.0,302.0 672.8,300.0 670.7,297.9 668.7,295.6 666.9,293.3 665.2,290.8 663.5,288.4 661.9,285.8 660.5,283.2 659.3,280.5 658.1,277.7 657.1,274.9 656.2,272.0 655.5,269.1 654.8,266.2 654.2,263.3 653.6,260.3 653.2,257.4 653.0,254.4 652.7,251.4 652.6,248.4 652.6,245.4 652.8,242.4 653.1,239.5 653.6,236.5 654.3,233.7 655.3,230.9 656.5,228.1 657.8,225.5 659.4,222.9 661.0,220.4 662.7,217.9 664.4,215.5 666.2,213.1 668.0,210.7 669.8,208.3 671.6,205.9 673.4,203.5 675.2,201.1 676.8,198.9 678.3,196.9 679.0,196.0"/><path id="p9d" d="M699.6,311.6 696.6,311.2 693.7,310.7 690.8,310.0 687.9,309.2 685.1,308.2 682.4,307.0 679.8,305.5 677.4,303.8 675.0,302.0 672.8,300.0 670.7,297.9 668.7,295.6 666.9,293.3 665.2,290.8 663.5,288.4 661.9,285.8 660.5,283.2 659.3,280.5 658.1,277.7 657.1,274.9 656.2,272.0 655.5,269.1 654.8,266.2 654.2,263.3 653.6,260.3 653.2,257.4 653.0,254.4 652.7,251.4 652.6,248.4 652.6,245.4 652.8,242.4 653.1,239.5 653.6,236.5 654.3,233.7 655.3,230.9 656.5,228.1 657.8,225.5 659.4,222.9 661.0,220.4 662.7,217.9 664.4,215.5 666.2,213.1 668.0,210.7 669.8,208.3 671.6,205.9 673.4,203.5 675.2,201.1 676.8,198.9 678.3,196.9 679.0,196.0"/><path id="p9t" d="M687.9,309.2 685.1,308.2 682.4,307.0 679.8,305.5 677.4,303.8 675.0,302.0 672.8,300.0 670.7,297.9 668.7,295.6 666.9,293.3 665.2,290.8 663.5,288.4 661.9,285.8 660.5,283.2 659.3,280.5 658.1,277.7 657.1,274.9 656.2,272.0 655.5,269.1 654.8,266.2 654.2,263.3 653.6,260.3 653.2,257.4 653.0,254.4 652.7,251.4 652.6,248.4 652.6,245.4 652.8,242.4 653.1,239.5 653.6,236.5 654.3,233.7 655.3,230.9 656.5,228.1 657.8,225.5 659.4,222.9 661.0,220.4 662.7,217.9 664.4,215.5 666.2,213.1 668.0,210.7 669.8,208.3 671.6,205.9 673.4,203.5"/><mask id="m8" maskUnits="userSpaceOnUse" x="600" y="60" width="300" height="290"><use href="#a8"/></mask><g id="a9"><use href="#a8"/><use href="#p9" fill="none" stroke="#fff" stroke-width="9.8" stroke-linecap="round"/></g></defs><use href="#p9t" stroke="#3a0a20" stroke-opacity="0.42" stroke-width="13.3" filter="url(#b2)" mask="url(#m8)" stroke-linecap="butt"/><use href="#p9d" stroke="#d9702f" stroke-width="9.8"/><circle cx="699.6" cy="311.6" r="4.90" fill="#d9702f" stroke="none"/><circle cx="679.0" cy="196.0" r="4.90" fill="#d9702f" stroke="none"/><use href="#p9" stroke="#f08644" stroke-width="8.4" transform="translate(-0.35,-0.45)"/><circle cx="699.6" cy="311.6" r="4.20" fill="#f08644" stroke="none" transform="translate(-0.35,-0.45)"/><circle cx="679.0" cy="196.0" r="4.20" fill="#f08644" stroke="none" transform="translate(-0.35,-0.45)"/><use href="#p9" stroke="#fbc29a" stroke-width="4.4" transform="translate(-0.90,-1.10)" opacity="0.48"/><circle cx="699.6" cy="311.6" r="2.20" fill="#fbc29a" stroke="none" transform="translate(-0.90,-1.10)" opacity="0.48"/><circle cx="679.0" cy="196.0" r="2.20" fill="#fbc29a" stroke="none" transform="translate(-0.90,-1.10)" opacity="0.48"/><use href="#p9" stroke="#fbc29a" stroke-width="1.8" transform="translate(-1.30,-1.60)" opacity="0.50"/><circle cx="699.6" cy="311.6" r="0.88" fill="#fbc29a" stroke="none" transform="translate(-1.30,-1.60)" opacity="0.50"/><circle cx="679.0" cy="196.0" r="0.88" fill="#fbc29a" stroke="none" transform="translate(-1.30,-1.60)" opacity="0.50"/></g>
<g fill="none" stroke-linejoin="round" stroke-linecap="butt"><defs><path id="p10" d="M741.0,195.4 740.0,198.2 739.0,201.1 738.0,203.9 736.9,206.7 735.7,209.4 734.5,212.2 733.2,214.9 731.9,217.6 730.5,220.2 729.1,222.9 727.8,225.6 726.4,228.3 725.2,231.0 723.8,233.7 722.5,236.3 721.1,239.0 719.6,241.6 718.0,244.1 716.4,246.7 714.7,249.2 713.0,251.6 711.2,254.0 709.4,256.4 707.5,258.7 705.7,261.1 704.0,263.6 702.4,266.1 700.9,268.7 699.5,271.3 698.0,273.9 696.6,276.6 695.1,279.2 693.5,281.7 691.9,284.2 690.1,286.7"/><path id="p10d" d="M741.0,195.4 740.0,198.2 739.0,201.1 738.0,203.9 736.9,206.7 735.7,209.4 734.5,212.2 733.2,214.9 731.9,217.6 730.5,220.2 729.1,222.9 727.8,225.6 726.4,228.3 725.2,231.0 723.8,233.7 722.5,236.3 721.1,239.0 719.6,241.6 718.0,244.1 716.4,246.7 714.7,249.2 713.0,251.6 711.2,254.0 709.4,256.4 707.5,258.7 705.7,261.1 704.0,263.6 702.4,266.1 700.9,268.7 699.5,271.3 698.0,273.9 696.6,276.6 695.1,279.2 693.5,281.7 691.9,284.2 690.1,286.7"/><path id="p10t" d="M736.9,206.7 735.7,209.4 734.5,212.2 733.2,214.9 731.9,217.6 730.5,220.2 729.1,222.9 727.8,225.6 726.4,228.3 725.2,231.0 723.8,233.7 722.5,236.3 721.1,239.0 719.6,241.6 718.0,244.1 716.4,246.7 714.7,249.2 713.0,251.6 711.2,254.0 709.4,256.4 707.5,258.7 705.7,261.1 704.0,263.6 702.4,266.1 700.9,268.7 699.5,271.3 698.0,273.9 696.6,276.6"/><mask id="m9" maskUnits="userSpaceOnUse" x="600" y="60" width="300" height="290"><use href="#a9"/></mask><g id="a10"><use href="#a9"/><use href="#p10" fill="none" stroke="#fff" stroke-width="9.8" stroke-linecap="round"/></g></defs><use href="#p10t" stroke="#3a0a20" stroke-opacity="0.42" stroke-width="13.3" filter="url(#b2)" mask="url(#m9)" stroke-linecap="butt"/><use href="#p10d" stroke="#d9702f" stroke-width="9.8"/><circle cx="741.0" cy="195.4" r="4.90" fill="#d9702f" stroke="none"/><use href="#p10" stroke="#f08644" stroke-width="8.4" transform="translate(-0.35,-0.45)"/><circle cx="741.0" cy="195.4" r="4.20" fill="#f08644" stroke="none" transform="translate(-0.35,-0.45)"/><use href="#p10" stroke="#fbc29a" stroke-width="4.4" transform="translate(-0.90,-1.10)" opacity="0.48"/><circle cx="741.0" cy="195.4" r="2.20" fill="#fbc29a" stroke="none" transform="translate(-0.90,-1.10)" opacity="0.48"/><use href="#p10" stroke="#fbc29a" stroke-width="1.8" transform="translate(-1.30,-1.60)" opacity="0.50"/><circle cx="741.0" cy="195.4" r="0.88" fill="#fbc29a" stroke="none" transform="translate(-1.30,-1.60)" opacity="0.50"/></g><g fill="none" stroke-linejoin="round" stroke-linecap="butt"><defs><path id="p11" d="M693.5,281.7 691.9,284.2 690.1,286.7 688.4,289.1 686.5,291.5 684.7,293.8 682.7,296.1 680.7,298.3 678.6,300.4 676.5,302.4 674.1,304.1 671.5,305.3 668.7,306.2 665.8,306.6 662.9,306.6 660.0,306.2 657.1,305.6 654.2,304.8 651.5,303.7 649.0,302.2 646.6,300.4 644.4,298.5 642.2,296.4 640.3,294.1 638.7,291.7 637.4,289.0 636.2,286.3 635.1,283.5 634.2,280.7 633.7,277.8 633.4,274.8 633.4,271.8 633.7,268.9 634.3,266.1 635.5,263.6 637.2,261.3 639.3,259.5 641.8,258.2"/><path id="p11d" d="M691.9,284.2 690.1,286.7 688.4,289.1 686.5,291.5 684.7,293.8 682.7,296.1 680.7,298.3 678.6,300.4 676.5,302.4 674.1,304.1 671.5,305.3 668.7,306.2 665.8,306.6 662.9,306.6 660.0,306.2 657.1,305.6 654.2,304.8 651.5,303.7 649.0,302.2 646.6,300.4 644.4,298.5 642.2,296.4 640.3,294.1 638.7,291.7 637.4,289.0 636.2,286.3 635.1,283.5 634.2,280.7 633.7,277.8 633.4,274.8 633.4,271.8 633.7,268.9 634.3,266.1 635.5,263.6 637.2,261.3 639.3,259.5 641.8,258.2"/><path id="p11t" d="M686.5,291.5 684.7,293.8 682.7,296.1 680.7,298.3 678.6,300.4 676.5,302.4 674.1,304.1 671.5,305.3 668.7,306.2 665.8,306.6 662.9,306.6 660.0,306.2 657.1,305.6 654.2,304.8 651.5,303.7 649.0,302.2 646.6,300.4 644.4,298.5 642.2,296.4 640.3,294.1 638.7,291.7 637.4,289.0 636.2,286.3 635.1,283.5 634.2,280.7 633.7,277.8 633.4,274.8 633.4,271.8 633.7,268.9 634.3,266.1"/><mask id="m10" maskUnits="userSpaceOnUse" x="600" y="60" width="300" height="290"><use href="#a10"/></mask><g id="a11"><use href="#a10"/><use href="#p11" fill="none" stroke="#fff" stroke-width="9.8" stroke-linecap="round"/></g></defs><use href="#p11t" stroke="#3a0a20" stroke-opacity="0.42" stroke-width="13.3" filter="url(#b2)" mask="url(#m10)" stroke-linecap="butt"/><use href="#p11d" stroke="#d9702f" stroke-width="9.8"/><use href="#p11" stroke="#f08644" stroke-width="8.4" transform="translate(-0.35,-0.45)"/><use href="#p11" stroke="#fbc29a" stroke-width="4.4" transform="translate(-0.90,-1.10)" opacity="0.48"/><use href="#p11" stroke="#fbc29a" stroke-width="1.8" transform="translate(-1.30,-1.60)" opacity="0.50"/></g><g fill="none" stroke-linejoin="round" stroke-linecap="butt"><defs><path id="p12" d="M637.2,261.3 639.3,259.5 641.8,258.2 644.6,257.4 647.6,257.0 650.5,256.9 653.5,257.1 656.4,257.5 659.4,257.9 662.3,258.5 665.2,259.2 668.1,260.1 670.9,261.0 673.8,262.0 676.6,263.0 679.4,264.0 682.1,265.3 684.7,266.7 687.3,268.3 689.7,270.0 691.9,272.0 693.9,274.2 695.6,276.5 697.3,279.0 698.8,281.6 700.3,284.2 701.6,286.9 702.9,289.6 704.2,292.3 705.5,295.0 706.9,297.6 708.5,300.2 710.2,302.6 712.2,304.7 714.4,306.5 717.0,307.7 719.7,308.1 722.4,307.8"/><path id="p12d" d="M639.3,259.5 641.8,258.2 644.6,257.4 647.6,257.0 650.5,256.9 653.5,257.1 656.4,257.5 659.4,257.9 662.3,258.5 665.2,259.2 668.1,260.1 670.9,261.0 673.8,262.0 676.6,263.0 679.4,264.0 682.1,265.3 684.7,266.7 687.3,268.3 689.7,270.0 691.9,272.0 693.9,274.2 695.6,276.5 697.3,279.0 698.8,281.6 700.3,284.2 701.6,286.9 702.9,289.6 704.2,292.3 705.5,295.0 706.9,297.6 708.5,300.2 710.2,302.6 712.2,304.7 714.4,306.5 717.0,307.7 719.7,308.1 722.4,307.8"/><path id="p12t" d="M647.6,257.0 650.5,256.9 653.5,257.1 656.4,257.5 659.4,257.9 662.3,258.5 665.2,259.2 668.1,260.1 670.9,261.0 673.8,262.0 676.6,263.0 679.4,264.0 682.1,265.3 684.7,266.7 687.3,268.3 689.7,270.0 691.9,272.0 693.9,274.2 695.6,276.5 697.3,279.0 698.8,281.6 700.3,284.2 701.6,286.9 702.9,289.6 704.2,292.3 705.5,295.0 706.9,297.6 708.5,300.2 710.2,302.6 712.2,304.7"/><mask id="m11" maskUnits="userSpaceOnUse" x="600" y="60" width="300" height="290"><use href="#a11"/></mask><g id="a12"><use href="#a11"/><use href="#p12" fill="none" stroke="#fff" stroke-width="9.8" stroke-linecap="round"/></g></defs><use href="#p12t" stroke="#3a0a20" stroke-opacity="0.42" stroke-width="13.3" filter="url(#b2)" mask="url(#m11)" stroke-linecap="butt"/><use href="#p12d" stroke="#d9702f" stroke-width="9.8"/><use href="#p12" stroke="#f08644" stroke-width="8.4" transform="translate(-0.35,-0.45)"/><use href="#p12" stroke="#fbc29a" stroke-width="4.4" transform="translate(-0.90,-1.10)" opacity="0.48"/><use href="#p12" stroke="#fbc29a" stroke-width="1.8" transform="translate(-1.30,-1.60)" opacity="0.50"/></g><g fill="none" stroke-linejoin="round" stroke-linecap="butt"><defs><path id="p13" d="M717.0,307.7 719.7,308.1 722.4,307.8 725.1,306.8 727.5,305.3 729.7,303.4 731.5,301.1 732.9,298.6 734.0,295.8 734.8,293.0 735.2,290.1 735.4,287.1 735.5,284.1 735.4,281.1 735.1,278.2 734.5,275.3 733.6,272.5 732.6,269.7 731.1,267.3 729.2,265.2 726.8,263.5 724.3,262.0 721.5,260.9 718.7,260.0 715.8,259.2 712.9,258.5 710.0,257.7 707.1,257.0 704.2,256.3 701.2,255.7 698.3,255.2 695.4,254.6 692.4,254.0 689.5,253.3 686.7,252.5 683.9,251.4 681.2,250.2 678.6,248.8"/><path id="p13d" d="M719.7,308.1 722.4,307.8 725.1,306.8 727.5,305.3 729.7,303.4 731.5,301.1 732.9,298.6 734.0,295.8 734.8,293.0 735.2,290.1 735.4,287.1 735.5,284.1 735.4,281.1 735.1,278.2 734.5,275.3 733.6,272.5 732.6,269.7 731.1,267.3 729.2,265.2 726.8,263.5 724.3,262.0 721.5,260.9 718.7,260.0 715.8,259.2 712.9,258.5 710.0,257.7 707.1,257.0 704.2,256.3 701.2,255.7 698.3,255.2 695.4,254.6 692.4,254.0 689.5,253.3 686.7,252.5 683.9,251.4 681.2,250.2 678.6,248.8"/><path id="p13t" d="M727.5,305.3 729.7,303.4 731.5,301.1 732.9,298.6 734.0,295.8 734.8,293.0 735.2,290.1 735.4,287.1 735.5,284.1 735.4,281.1 735.1,278.2 734.5,275.3 733.6,272.5 732.6,269.7 731.1,267.3 729.2,265.2 726.8,263.5 724.3,262.0 721.5,260.9 718.7,260.0 715.8,259.2 712.9,258.5 710.0,257.7 707.1,257.0 704.2,256.3 701.2,255.7 698.3,255.2 695.4,254.6 692.4,254.0 689.5,253.3"/><mask id="m12" maskUnits="userSpaceOnUse" x="600" y="60" width="300" height="290"><use href="#a12"/></mask><g id="a13"><use href="#a12"/><use href="#p13" fill="none" stroke="#fff" stroke-width="9.8" stroke-linecap="round"/></g></defs><use href="#p13t" stroke="#3a0a20" stroke-opacity="0.42" stroke-width="13.3" filter="url(#b2)" mask="url(#m12)" stroke-linecap="butt"/><use href="#p13d" stroke="#d9702f" stroke-width="9.8"/><use href="#p13" stroke="#f08644" stroke-width="8.4" transform="translate(-0.35,-0.45)"/><use href="#p13" stroke="#fbc29a" stroke-width="4.4" transform="translate(-0.90,-1.10)" opacity="0.48"/><use href="#p13" stroke="#fbc29a" stroke-width="1.8" transform="translate(-1.30,-1.60)" opacity="0.50"/></g><g fill="none" stroke-linejoin="round" stroke-linecap="butt"><defs><path id="p14" d="M683.9,251.4 681.2,250.2 678.6,248.8 675.9,247.3 673.3,245.9 670.6,244.7 667.8,243.6 665.0,242.6 662.1,241.8 659.2,241.2 656.2,240.8 653.2,240.5 650.3,240.1 647.4,239.6 644.7,238.7 642.4,237.3 640.6,235.2 639.3,232.6 638.6,229.8 638.3,226.9 638.4,224.0 638.8,221.1 639.6,218.2 640.8,215.5 642.2,213.0 644.0,210.6 646.1,208.6 648.5,206.8 651.0,205.3 653.7,204.2 656.5,203.4 659.4,202.7 662.3,202.1 665.3,201.9 668.3,201.8 671.3,202.0 674.2,202.4 677.1,203.0"/><path id="p14d" d="M681.2,250.2 678.6,248.8 675.9,247.3 673.3,245.9 670.6,244.7 667.8,243.6 665.0,242.6 662.1,241.8 659.2,241.2 656.2,240.8 653.2,240.5 650.3,240.1 647.4,239.6 644.7,238.7 642.4,237.3 640.6,235.2 639.3,232.6 638.6,229.8 638.3,226.9 638.4,224.0 638.8,221.1 639.6,218.2 640.8,215.5 642.2,213.0 644.0,210.6 646.1,208.6 648.5,206.8 651.0,205.3 653.7,204.2 656.5,203.4 659.4,202.7 662.3,202.1 665.3,201.9 668.3,201.8 671.3,202.0 674.2,202.4 677.1,203.0"/><path id="p14t" d="M673.3,245.9 670.6,244.7 667.8,243.6 665.0,242.6 662.1,241.8 659.2,241.2 656.2,240.8 653.2,240.5 650.3,240.1 647.4,239.6 644.7,238.7 642.4,237.3 640.6,235.2 639.3,232.6 638.6,229.8 638.3,226.9 638.4,224.0 638.8,221.1 639.6,218.2 640.8,215.5 642.2,213.0 644.0,210.6 646.1,208.6 648.5,206.8 651.0,205.3 653.7,204.2 656.5,203.4 659.4,202.7 662.3,202.1 665.3,201.9"/><mask id="m13" maskUnits="userSpaceOnUse" x="600" y="60" width="300" height="290"><use href="#a13"/></mask><g id="a14"><use href="#a13"/><use href="#p14" fill="none" stroke="#fff" stroke-width="9.8" stroke-linecap="round"/></g></defs><use href="#p14t" stroke="#3a0a20" stroke-opacity="0.42" stroke-width="13.3" filter="url(#b2)" mask="url(#m13)" stroke-linecap="butt"/><use href="#p14d" stroke="#d9702f" stroke-width="9.8"/><use href="#p14" stroke="#f08644" stroke-width="8.4" transform="translate(-0.35,-0.45)"/><use href="#p14" stroke="#fbc29a" stroke-width="4.4" transform="translate(-0.90,-1.10)" opacity="0.48"/><use href="#p14" stroke="#fbc29a" stroke-width="1.8" transform="translate(-1.30,-1.60)" opacity="0.50"/></g><g fill="none" stroke-linejoin="round" stroke-linecap="butt"><defs><path id="p15" d="M671.3,202.0 674.2,202.4 677.1,203.0 680.0,203.8 682.8,204.9 685.5,206.1 688.2,207.3 691.0,208.5 693.6,209.9 696.1,211.5 698.6,213.2 700.9,215.1 703.2,217.0 705.4,219.0 707.5,221.1 709.6,223.3 711.6,225.5 713.7,227.7 715.7,229.9 717.7,232.2 719.6,234.5 721.4,236.8 723.2,239.3 724.9,241.7 726.5,244.2 728.0,246.8 729.4,249.5 730.7,252.2 732.0,254.9 733.3,257.5 734.9,260.0 736.7,262.2 739.0,263.6 741.4,264.2 743.8,263.6 745.7,261.9 747.1,259.6 747.9,256.9"/><path id="p15d" d="M674.2,202.4 677.1,203.0 680.0,203.8 682.8,204.9 685.5,206.1 688.2,207.3 691.0,208.5 693.6,209.9 696.1,211.5 698.6,213.2 700.9,215.1 703.2,217.0 705.4,219.0 707.5,221.1 709.6,223.3 711.6,225.5 713.7,227.7 715.7,229.9 717.7,232.2 719.6,234.5 721.4,236.8 723.2,239.3 724.9,241.7 726.5,244.2 728.0,246.8 729.4,249.5 730.7,252.2 732.0,254.9 733.3,257.5 734.9,260.0 736.7,262.2 739.0,263.6 741.4,264.2 743.8,263.6 745.7,261.9 747.1,259.6 747.9,256.9"/><path id="p15t" d="M682.8,204.9 685.5,206.1 688.2,207.3 691.0,208.5 693.6,209.9 696.1,211.5 698.6,213.2 700.9,215.1 703.2,217.0 705.4,219.0 707.5,221.1 709.6,223.3 711.6,225.5 713.7,227.7 715.7,229.9 717.7,232.2 719.6,234.5 721.4,236.8 723.2,239.3 724.9,241.7 726.5,244.2 728.0,246.8 729.4,249.5 730.7,252.2 732.0,254.9 733.3,257.5 734.9,260.0 736.7,262.2 739.0,263.6 741.4,264.2"/><mask id="m14" maskUnits="userSpaceOnUse" x="600" y="60" width="300" height="290"><use href="#a14"/></mask><g id="a15"><use href="#a14"/><use href="#p15" fill="none" stroke="#fff" stroke-width="9.8" stroke-linecap="round"/></g></defs><use href="#p15t" stroke="#3a0a20" stroke-opacity="0.42" stroke-width="13.3" filter="url(#b2)" mask="url(#m14)" stroke-linecap="butt"/><use href="#p15d" stroke="#d9702f" stroke-width="9.8"/><use href="#p15" stroke="#f08644" stroke-width="8.4" transform="translate(-0.35,-0.45)"/><use href="#p15" stroke="#fbc29a" stroke-width="4.4" transform="translate(-0.90,-1.10)" opacity="0.48"/><use href="#p15" stroke="#fbc29a" stroke-width="1.8" transform="translate(-1.30,-1.60)" opacity="0.50"/></g><g fill="none" stroke-linejoin="round" stroke-linecap="butt"><defs><path id="p16" d="M745.7,261.9 747.1,259.6 747.9,256.9 748.3,254.0 748.3,251.0 748.1,248.0 747.7,245.1 747.0,242.2 746.2,239.3 745.4,236.4 744.3,233.6 743.1,230.9 741.7,228.3 740.2,225.7 738.7,223.1 737.1,220.6 735.3,218.2 733.3,215.9 731.3,213.7 729.3,211.5 727.1,209.5 724.8,207.6 722.3,205.9 719.8,204.3 717.2,202.8 714.6,201.5 711.8,200.4 708.9,199.5 706.1,198.8 703.1,198.1 700.2,197.7 697.2,197.4 694.2,197.3 691.2,197.4 688.3,197.7 685.6,198.1 683.1,198.7 682.0,199.0"/><path id="p16d" d="M747.1,259.6 747.9,256.9 748.3,254.0 748.3,251.0 748.1,248.0 747.7,245.1 747.0,242.2 746.2,239.3 745.4,236.4 744.3,233.6 743.1,230.9 741.7,228.3 740.2,225.7 738.7,223.1 737.1,220.6 735.3,218.2 733.3,215.9 731.3,213.7 729.3,211.5 727.1,209.5 724.8,207.6 722.3,205.9 719.8,204.3 717.2,202.8 714.6,201.5 711.8,200.4 708.9,199.5 706.1,198.8 703.1,198.1 700.2,197.7 697.2,197.4 694.2,197.3 691.2,197.4 688.3,197.7 685.6,198.1 683.1,198.7 682.0,199.0"/><path id="p16t" d="M748.3,251.0 748.1,248.0 747.7,245.1 747.0,242.2 746.2,239.3 745.4,236.4 744.3,233.6 743.1,230.9 741.7,228.3 740.2,225.7 738.7,223.1 737.1,220.6 735.3,218.2 733.3,215.9 731.3,213.7 729.3,211.5 727.1,209.5 724.8,207.6 722.3,205.9 719.8,204.3 717.2,202.8 714.6,201.5 711.8,200.4 708.9,199.5 706.1,198.8 703.1,198.1 700.2,197.7 697.2,197.4 694.2,197.3 691.2,197.4"/><mask id="m15" maskUnits="userSpaceOnUse" x="600" y="60" width="300" height="290"><use href="#a15"/></mask><g id="a16"><use href="#a15"/><use href="#p16" fill="none" stroke="#fff" stroke-width="9.8" stroke-linecap="round"/></g></defs><use href="#p16t" stroke="#3a0a20" stroke-opacity="0.42" stroke-width="13.3" filter="url(#b2)" mask="url(#m15)" stroke-linecap="butt"/><use href="#p16d" stroke="#d9702f" stroke-width="9.8"/><circle cx="682.0" cy="199.0" r="4.90" fill="#d9702f" stroke="none"/><use href="#p16" stroke="#f08644" stroke-width="8.4" transform="translate(-0.35,-0.45)"/><circle cx="682.0" cy="199.0" r="4.20" fill="#f08644" stroke="none" transform="translate(-0.35,-0.45)"/><use href="#p16" stroke="#fbc29a" stroke-width="4.4" transform="translate(-0.90,-1.10)" opacity="0.48"/><circle cx="682.0" cy="199.0" r="2.20" fill="#fbc29a" stroke="none" transform="translate(-0.90,-1.10)" opacity="0.48"/><use href="#p16" stroke="#fbc29a" stroke-width="1.8" transform="translate(-1.30,-1.60)" opacity="0.50"/><circle cx="682.0" cy="199.0" r="0.88" fill="#fbc29a" stroke="none" transform="translate(-1.30,-1.60)" opacity="0.50"/></g>
<g fill="none" stroke-linejoin="round" stroke-linecap="butt"><defs><path id="p17" d="M699.6,93.4 696.6,93.8 693.7,94.3 690.8,95.0 687.9,95.8 685.1,96.8 682.4,98.0 679.8,99.5 677.4,101.2 675.0,103.0 672.8,105.0 670.7,107.1 668.7,109.4 666.9,111.7 665.2,114.2 663.5,116.6 661.9,119.2 660.5,121.8 659.3,124.5 658.1,127.3 657.1,130.1 656.2,133.0 655.5,135.9 654.8,138.8 654.2,141.7 653.6,144.7 653.2,147.6 653.0,150.6 652.7,153.6 652.6,156.6 652.6,159.6 652.8,162.6 653.1,165.5 653.6,168.5 654.3,171.3 655.3,174.1 656.5,176.9 657.8,179.5 659.4,182.1 661.0,184.6 662.7,187.1 664.4,189.5 666.2,191.9 668.0,194.3 669.8,196.7 671.6,199.1 673.4,201.5 675.2,203.9 676.8,206.1 678.3,208.1 679.0,209.0"/><path id="p17d" d="M699.6,93.4 696.6,93.8 693.7,94.3 690.8,95.0 687.9,95.8 685.1,96.8 682.4,98.0 679.8,99.5 677.4,101.2 675.0,103.0 672.8,105.0 670.7,107.1 668.7,109.4 666.9,111.7 665.2,114.2 663.5,116.6 661.9,119.2 660.5,121.8 659.3,124.5 658.1,127.3 657.1,130.1 656.2,133.0 655.5,135.9 654.8,138.8 654.2,141.7 653.6,144.7 653.2,147.6 653.0,150.6 652.7,153.6 652.6,156.6 652.6,159.6 652.8,162.6 653.1,165.5 653.6,168.5 654.3,171.3 655.3,174.1 656.5,176.9 657.8,179.5 659.4,182.1 661.0,184.6 662.7,187.1 664.4,189.5 666.2,191.9 668.0,194.3 669.8,196.7 671.6,199.1 673.4,201.5 675.2,203.9 676.8,206.1 678.3,208.1 679.0,209.0"/><path id="p17t" d="M687.9,95.8 685.1,96.8 682.4,98.0 679.8,99.5 677.4,101.2 675.0,103.0 672.8,105.0 670.7,107.1 668.7,109.4 666.9,111.7 665.2,114.2 663.5,116.6 661.9,119.2 660.5,121.8 659.3,124.5 658.1,127.3 657.1,130.1 656.2,133.0 655.5,135.9 654.8,138.8 654.2,141.7 653.6,144.7 653.2,147.6 653.0,150.6 652.7,153.6 652.6,156.6 652.6,159.6 652.8,162.6 653.1,165.5 653.6,168.5 654.3,171.3 655.3,174.1 656.5,176.9 657.8,179.5 659.4,182.1 661.0,184.6 662.7,187.1 664.4,189.5 666.2,191.9 668.0,194.3 669.8,196.7 671.6,199.1 673.4,201.5"/><mask id="m16" maskUnits="userSpaceOnUse" x="600" y="60" width="300" height="290"><use href="#a16"/></mask><g id="a17"><use href="#a16"/><use href="#p17" fill="none" stroke="#fff" stroke-width="9.8" stroke-linecap="round"/></g></defs><use href="#p17t" stroke="#3a0a20" stroke-opacity="0.42" stroke-width="13.3" filter="url(#b2)" mask="url(#m16)" stroke-linecap="butt"/><use href="#p17d" stroke="#d9468f" stroke-width="9.8"/><circle cx="699.6" cy="93.4" r="4.90" fill="#d9468f" stroke="none"/><circle cx="679.0" cy="209.0" r="4.90" fill="#d9468f" stroke="none"/><use href="#p17" stroke="#ee5b9f" stroke-width="8.4" transform="translate(-0.35,-0.45)"/><circle cx="699.6" cy="93.4" r="4.20" fill="#ee5b9f" stroke="none" transform="translate(-0.35,-0.45)"/><circle cx="679.0" cy="209.0" r="4.20" fill="#ee5b9f" stroke="none" transform="translate(-0.35,-0.45)"/><use href="#p17" stroke="#fab2d4" stroke-width="4.4" transform="translate(-0.90,-1.10)" opacity="0.48"/><circle cx="699.6" cy="93.4" r="2.20" fill="#fab2d4" stroke="none" transform="translate(-0.90,-1.10)" opacity="0.48"/><circle cx="679.0" cy="209.0" r="2.20" fill="#fab2d4" stroke="none" transform="translate(-0.90,-1.10)" opacity="0.48"/><use href="#p17" stroke="#fab2d4" stroke-width="1.8" transform="translate(-1.30,-1.60)" opacity="0.50"/><circle cx="699.6" cy="93.4" r="0.88" fill="#fab2d4" stroke="none" transform="translate(-1.30,-1.60)" opacity="0.50"/><circle cx="679.0" cy="209.0" r="0.88" fill="#fab2d4" stroke="none" transform="translate(-1.30,-1.60)" opacity="0.50"/></g>
<g fill="none" stroke-linejoin="round" stroke-linecap="butt"><defs><path id="p18" d="M741.0,209.6 740.0,206.8 739.0,203.9 738.0,201.1 736.9,198.3 735.7,195.6 734.5,192.8 733.2,190.1 731.9,187.4 730.5,184.8 729.1,182.1 727.8,179.4 726.4,176.7 725.2,174.0 723.8,171.3 722.5,168.7 721.1,166.0 719.6,163.4 718.0,160.9 716.4,158.3 714.7,155.8 713.0,153.4 711.2,151.0 709.4,148.6 707.5,146.3 705.7,143.9 704.0,141.4 702.4,138.9 700.9,136.3 699.5,133.7 698.0,131.1 696.6,128.4 695.1,125.8 693.5,123.3 691.9,120.8 690.1,118.3"/><path id="p18d" d="M741.0,209.6 740.0,206.8 739.0,203.9 738.0,201.1 736.9,198.3 735.7,195.6 734.5,192.8 733.2,190.1 731.9,187.4 730.5,184.8 729.1,182.1 727.8,179.4 726.4,176.7 725.2,174.0 723.8,171.3 722.5,168.7 721.1,166.0 719.6,163.4 718.0,160.9 716.4,158.3 714.7,155.8 713.0,153.4 711.2,151.0 709.4,148.6 707.5,146.3 705.7,143.9 704.0,141.4 702.4,138.9 700.9,136.3 699.5,133.7 698.0,131.1 696.6,128.4 695.1,125.8 693.5,123.3 691.9,120.8 690.1,118.3"/><path id="p18t" d="M736.9,198.3 735.7,195.6 734.5,192.8 733.2,190.1 731.9,187.4 730.5,184.8 729.1,182.1 727.8,179.4 726.4,176.7 725.2,174.0 723.8,171.3 722.5,168.7 721.1,166.0 719.6,163.4 718.0,160.9 716.4,158.3 714.7,155.8 713.0,153.4 711.2,151.0 709.4,148.6 707.5,146.3 705.7,143.9 704.0,141.4 702.4,138.9 700.9,136.3 699.5,133.7 698.0,131.1 696.6,128.4"/><mask id="m17" maskUnits="userSpaceOnUse" x="600" y="60" width="300" height="290"><use href="#a17"/></mask><g id="a18"><use href="#a17"/><use href="#p18" fill="none" stroke="#fff" stroke-width="9.8" stroke-linecap="round"/></g></defs><use href="#p18t" stroke="#3a0a20" stroke-opacity="0.42" stroke-width="13.3" filter="url(#b2)" mask="url(#m17)" stroke-linecap="butt"/><use href="#p18d" stroke="#d9468f" stroke-width="9.8"/><circle cx="741.0" cy="209.6" r="4.90" fill="#d9468f" stroke="none"/><use href="#p18" stroke="#ee5b9f" stroke-width="8.4" transform="translate(-0.35,-0.45)"/><circle cx="741.0" cy="209.6" r="4.20" fill="#ee5b9f" stroke="none" transform="translate(-0.35,-0.45)"/><use href="#p18" stroke="#fab2d4" stroke-width="4.4" transform="translate(-0.90,-1.10)" opacity="0.48"/><circle cx="741.0" cy="209.6" r="2.20" fill="#fab2d4" stroke="none" transform="translate(-0.90,-1.10)" opacity="0.48"/><use href="#p18" stroke="#fab2d4" stroke-width="1.8" transform="translate(-1.30,-1.60)" opacity="0.50"/><circle cx="741.0" cy="209.6" r="0.88" fill="#fab2d4" stroke="none" transform="translate(-1.30,-1.60)" opacity="0.50"/></g><g fill="none" stroke-linejoin="round" stroke-linecap="butt"><defs><path id="p19" d="M693.5,123.3 691.9,120.8 690.1,118.3 688.4,115.9 686.5,113.5 684.7,111.2 682.7,108.9 680.7,106.7 678.6,104.6 676.5,102.6 674.1,100.9 671.5,99.7 668.7,98.8 665.8,98.4 662.9,98.4 660.0,98.8 657.1,99.4 654.2,100.2 651.5,101.3 649.0,102.8 646.6,104.6 644.4,106.5 642.2,108.6 640.3,110.9 638.7,113.3 637.4,116.0 636.2,118.7 635.1,121.5 634.2,124.3 633.7,127.2 633.4,130.2 633.4,133.2 633.7,136.1 634.3,138.9 635.5,141.4 637.2,143.7 639.3,145.5 641.8,146.8"/><path id="p19d" d="M691.9,120.8 690.1,118.3 688.4,115.9 686.5,113.5 684.7,111.2 682.7,108.9 680.7,106.7 678.6,104.6 676.5,102.6 674.1,100.9 671.5,99.7 668.7,98.8 665.8,98.4 662.9,98.4 660.0,98.8 657.1,99.4 654.2,100.2 651.5,101.3 649.0,102.8 646.6,104.6 644.4,106.5 642.2,108.6 640.3,110.9 638.7,113.3 637.4,116.0 636.2,118.7 635.1,121.5 634.2,124.3 633.7,127.2 633.4,130.2 633.4,133.2 633.7,136.1 634.3,138.9 635.5,141.4 637.2,143.7 639.3,145.5 641.8,146.8"/><path id="p19t" d="M686.5,113.5 684.7,111.2 682.7,108.9 680.7,106.7 678.6,104.6 676.5,102.6 674.1,100.9 671.5,99.7 668.7,98.8 665.8,98.4 662.9,98.4 660.0,98.8 657.1,99.4 654.2,100.2 651.5,101.3 649.0,102.8 646.6,104.6 644.4,106.5 642.2,108.6 640.3,110.9 638.7,113.3 637.4,116.0 636.2,118.7 635.1,121.5 634.2,124.3 633.7,127.2 633.4,130.2 633.4,133.2 633.7,136.1 634.3,138.9"/><mask id="m18" maskUnits="userSpaceOnUse" x="600" y="60" width="300" height="290"><use href="#a18"/></mask><g id="a19"><use href="#a18"/><use href="#p19" fill="none" stroke="#fff" stroke-width="9.8" stroke-linecap="round"/></g></defs><use href="#p19t" stroke="#3a0a20" stroke-opacity="0.42" stroke-width="13.3" filter="url(#b2)" mask="url(#m18)" stroke-linecap="butt"/><use href="#p19d" stroke="#d9468f" stroke-width="9.8"/><use href="#p19" stroke="#ee5b9f" stroke-width="8.4" transform="translate(-0.35,-0.45)"/><use href="#p19" stroke="#fab2d4" stroke-width="4.4" transform="translate(-0.90,-1.10)" opacity="0.48"/><use href="#p19" stroke="#fab2d4" stroke-width="1.8" transform="translate(-1.30,-1.60)" opacity="0.50"/></g><g fill="none" stroke-linejoin="round" stroke-linecap="butt"><defs><path id="p20" d="M637.2,143.7 639.3,145.5 641.8,146.8 644.6,147.6 647.6,148.0 650.5,148.1 653.5,147.9 656.4,147.5 659.4,147.1 662.3,146.5 665.2,145.8 668.1,144.9 670.9,144.0 673.8,143.0 676.6,142.0 679.4,141.0 682.1,139.7 684.7,138.3 687.3,136.7 689.7,135.0 691.9,133.0 693.9,130.8 695.6,128.5 697.3,126.0 698.8,123.4 700.3,120.8 701.6,118.1 702.9,115.4 704.2,112.7 705.5,110.0 706.9,107.4 708.5,104.8 710.2,102.4 712.2,100.3 714.4,98.5 717.0,97.3 719.7,96.9 722.4,97.2"/><path id="p20d" d="M639.3,145.5 641.8,146.8 644.6,147.6 647.6,148.0 650.5,148.1 653.5,147.9 656.4,147.5 659.4,147.1 662.3,146.5 665.2,145.8 668.1,144.9 670.9,144.0 673.8,143.0 676.6,142.0 679.4,141.0 682.1,139.7 684.7,138.3 687.3,136.7 689.7,135.0 691.9,133.0 693.9,130.8 695.6,128.5 697.3,126.0 698.8,123.4 700.3,120.8 701.6,118.1 702.9,115.4 704.2,112.7 705.5,110.0 706.9,107.4 708.5,104.8 710.2,102.4 712.2,100.3 714.4,98.5 717.0,97.3 719.7,96.9 722.4,97.2"/><path id="p20t" d="M647.6,148.0 650.5,148.1 653.5,147.9 656.4,147.5 659.4,147.1 662.3,146.5 665.2,145.8 668.1,144.9 670.9,144.0 673.8,143.0 676.6,142.0 679.4,141.0 682.1,139.7 684.7,138.3 687.3,136.7 689.7,135.0 691.9,133.0 693.9,130.8 695.6,128.5 697.3,126.0 698.8,123.4 700.3,120.8 701.6,118.1 702.9,115.4 704.2,112.7 705.5,110.0 706.9,107.4 708.5,104.8 710.2,102.4 712.2,100.3"/><mask id="m19" maskUnits="userSpaceOnUse" x="600" y="60" width="300" height="290"><use href="#a19"/></mask><g id="a20"><use href="#a19"/><use href="#p20" fill="none" stroke="#fff" stroke-width="9.8" stroke-linecap="round"/></g></defs><use href="#p20t" stroke="#3a0a20" stroke-opacity="0.42" stroke-width="13.3" filter="url(#b2)" mask="url(#m19)" stroke-linecap="butt"/><use href="#p20d" stroke="#d9468f" stroke-width="9.8"/><use href="#p20" stroke="#ee5b9f" stroke-width="8.4" transform="translate(-0.35,-0.45)"/><use href="#p20" stroke="#fab2d4" stroke-width="4.4" transform="translate(-0.90,-1.10)" opacity="0.48"/><use href="#p20" stroke="#fab2d4" stroke-width="1.8" transform="translate(-1.30,-1.60)" opacity="0.50"/></g><g fill="none" stroke-linejoin="round" stroke-linecap="butt"><defs><path id="p21" d="M717.0,97.3 719.7,96.9 722.4,97.2 725.1,98.2 727.5,99.7 729.7,101.6 731.5,103.9 732.9,106.4 734.0,109.2 734.8,112.0 735.2,114.9 735.4,117.9 735.5,120.9 735.4,123.9 735.1,126.8 734.5,129.7 733.6,132.5 732.6,135.3 731.1,137.7 729.2,139.8 726.8,141.5 724.3,143.0 721.5,144.1 718.7,145.0 715.8,145.8 712.9,146.5 710.0,147.3 707.1,148.0 704.2,148.7 701.2,149.3 698.3,149.8 695.4,150.4 692.4,151.0 689.5,151.7 686.7,152.5 683.9,153.6 681.2,154.8 678.6,156.2"/><path id="p21d" d="M719.7,96.9 722.4,97.2 725.1,98.2 727.5,99.7 729.7,101.6 731.5,103.9 732.9,106.4 734.0,109.2 734.8,112.0 735.2,114.9 735.4,117.9 735.5,120.9 735.4,123.9 735.1,126.8 734.5,129.7 733.6,132.5 732.6,135.3 731.1,137.7 729.2,139.8 726.8,141.5 724.3,143.0 721.5,144.1 718.7,145.0 715.8,145.8 712.9,146.5 710.0,147.3 707.1,148.0 704.2,148.7 701.2,149.3 698.3,149.8 695.4,150.4 692.4,151.0 689.5,151.7 686.7,152.5 683.9,153.6 681.2,154.8 678.6,156.2"/><path id="p21t" d="M727.5,99.7 729.7,101.6 731.5,103.9 732.9,106.4 734.0,109.2 734.8,112.0 735.2,114.9 735.4,117.9 735.5,120.9 735.4,123.9 735.1,126.8 734.5,129.7 733.6,132.5 732.6,135.3 731.1,137.7 729.2,139.8 726.8,141.5 724.3,143.0 721.5,144.1 718.7,145.0 715.8,145.8 712.9,146.5 710.0,147.3 707.1,148.0 704.2,148.7 701.2,149.3 698.3,149.8 695.4,150.4 692.4,151.0 689.5,151.7"/><mask id="m20" maskUnits="userSpaceOnUse" x="600" y="60" width="300" height="290"><use href="#a20"/></mask><g id="a21"><use href="#a20"/><use href="#p21" fill="none" stroke="#fff" stroke-width="9.8" stroke-linecap="round"/></g></defs><use href="#p21t" stroke="#3a0a20" stroke-opacity="0.42" stroke-width="13.3" filter="url(#b2)" mask="url(#m20)" stroke-linecap="butt"/><use href="#p21d" stroke="#d9468f" stroke-width="9.8"/><use href="#p21" stroke="#ee5b9f" stroke-width="8.4" transform="translate(-0.35,-0.45)"/><use href="#p21" stroke="#fab2d4" stroke-width="4.4" transform="translate(-0.90,-1.10)" opacity="0.48"/><use href="#p21" stroke="#fab2d4" stroke-width="1.8" transform="translate(-1.30,-1.60)" opacity="0.50"/></g><g fill="none" stroke-linejoin="round" stroke-linecap="butt"><defs><path id="p22" d="M683.9,153.6 681.2,154.8 678.6,156.2 675.9,157.7 673.3,159.1 670.6,160.3 667.8,161.4 665.0,162.4 662.1,163.2 659.2,163.8 656.2,164.2 653.2,164.5 650.3,164.9 647.4,165.4 644.7,166.3 642.4,167.7 640.6,169.8 639.3,172.4 638.6,175.2 638.3,178.1 638.4,181.0 638.8,183.9 639.6,186.8 640.8,189.5 642.2,192.0 644.0,194.4 646.1,196.4 648.5,198.2 651.0,199.7 653.7,200.8 656.5,201.6 659.4,202.3 662.3,202.9 665.3,203.1 668.3,203.2 671.3,203.0 674.2,202.6 677.1,202.0"/><path id="p22d" d="M681.2,154.8 678.6,156.2 675.9,157.7 673.3,159.1 670.6,160.3 667.8,161.4 665.0,162.4 662.1,163.2 659.2,163.8 656.2,164.2 653.2,164.5 650.3,164.9 647.4,165.4 644.7,166.3 642.4,167.7 640.6,169.8 639.3,172.4 638.6,175.2 638.3,178.1 638.4,181.0 638.8,183.9 639.6,186.8 640.8,189.5 642.2,192.0 644.0,194.4 646.1,196.4 648.5,198.2 651.0,199.7 653.7,200.8 656.5,201.6 659.4,202.3 662.3,202.9 665.3,203.1 668.3,203.2 671.3,203.0 674.2,202.6 677.1,202.0"/><path id="p22t" d="M673.3,159.1 670.6,160.3 667.8,161.4 665.0,162.4 662.1,163.2 659.2,163.8 656.2,164.2 653.2,164.5 650.3,164.9 647.4,165.4 644.7,166.3 642.4,167.7 640.6,169.8 639.3,172.4 638.6,175.2 638.3,178.1 638.4,181.0 638.8,183.9 639.6,186.8 640.8,189.5 642.2,192.0 644.0,194.4 646.1,196.4 648.5,198.2 651.0,199.7 653.7,200.8 656.5,201.6 659.4,202.3 662.3,202.9 665.3,203.1"/><mask id="m21" maskUnits="userSpaceOnUse" x="600" y="60" width="300" height="290"><use href="#a21"/></mask><g id="a22"><use href="#a21"/><use href="#p22" fill="none" stroke="#fff" stroke-width="9.8" stroke-linecap="round"/></g></defs><use href="#p22t" stroke="#3a0a20" stroke-opacity="0.42" stroke-width="13.3" filter="url(#b2)" mask="url(#m21)" stroke-linecap="butt"/><use href="#p22d" stroke="#d9468f" stroke-width="9.8"/><use href="#p22" stroke="#ee5b9f" stroke-width="8.4" transform="translate(-0.35,-0.45)"/><use href="#p22" stroke="#fab2d4" stroke-width="4.4" transform="translate(-0.90,-1.10)" opacity="0.48"/><use href="#p22" stroke="#fab2d4" stroke-width="1.8" transform="translate(-1.30,-1.60)" opacity="0.50"/></g><g fill="none" stroke-linejoin="round" stroke-linecap="butt"><defs><path id="p23" d="M671.3,203.0 674.2,202.6 677.1,202.0 680.0,201.2 682.8,200.1 685.5,198.9 688.2,197.7 691.0,196.5 693.6,195.1 696.1,193.5 698.6,191.8 700.9,189.9 703.2,188.0 705.4,186.0 707.5,183.9 709.6,181.7 711.6,179.5 713.7,177.3 715.7,175.1 717.7,172.8 719.6,170.5 721.4,168.2 723.2,165.7 724.9,163.3 726.5,160.8 728.0,158.2 729.4,155.5 730.7,152.8 732.0,150.1 733.3,147.5 734.9,145.0 736.7,142.8 739.0,141.4 741.4,140.8 743.8,141.4 745.7,143.1 747.1,145.4 747.9,148.1"/><path id="p23d" d="M674.2,202.6 677.1,202.0 680.0,201.2 682.8,200.1 685.5,198.9 688.2,197.7 691.0,196.5 693.6,195.1 696.1,193.5 698.6,191.8 700.9,189.9 703.2,188.0 705.4,186.0 707.5,183.9 709.6,181.7 711.6,179.5 713.7,177.3 715.7,175.1 717.7,172.8 719.6,170.5 721.4,168.2 723.2,165.7 724.9,163.3 726.5,160.8 728.0,158.2 729.4,155.5 730.7,152.8 732.0,150.1 733.3,147.5 734.9,145.0 736.7,142.8 739.0,141.4 741.4,140.8 743.8,141.4 745.7,143.1 747.1,145.4 747.9,148.1"/><path id="p23t" d="M682.8,200.1 685.5,198.9 688.2,197.7 691.0,196.5 693.6,195.1 696.1,193.5 698.6,191.8 700.9,189.9 703.2,188.0 705.4,186.0 707.5,183.9 709.6,181.7 711.6,179.5 713.7,177.3 715.7,175.1 717.7,172.8 719.6,170.5 721.4,168.2 723.2,165.7 724.9,163.3 726.5,160.8 728.0,158.2 729.4,155.5 730.7,152.8 732.0,150.1 733.3,147.5 734.9,145.0 736.7,142.8 739.0,141.4 741.4,140.8"/><mask id="m22" maskUnits="userSpaceOnUse" x="600" y="60" width="300" height="290"><use href="#a22"/></mask><g id="a23"><use href="#a22"/><use href="#p23" fill="none" stroke="#fff" stroke-width="9.8" stroke-linecap="round"/></g></defs><use href="#p23t" stroke="#3a0a20" stroke-opacity="0.42" stroke-width="13.3" filter="url(#b2)" mask="url(#m22)" stroke-linecap="butt"/><use href="#p23d" stroke="#d9468f" stroke-width="9.8"/><use href="#p23" stroke="#ee5b9f" stroke-width="8.4" transform="translate(-0.35,-0.45)"/><use href="#p23" stroke="#fab2d4" stroke-width="4.4" transform="translate(-0.90,-1.10)" opacity="0.48"/><use href="#p23" stroke="#fab2d4" stroke-width="1.8" transform="translate(-1.30,-1.60)" opacity="0.50"/></g><g fill="none" stroke-linejoin="round" stroke-linecap="butt"><defs><path id="p24" d="M745.7,143.1 747.1,145.4 747.9,148.1 748.3,151.0 748.3,154.0 748.1,157.0 747.7,159.9 747.0,162.8 746.2,165.7 745.4,168.6 744.3,171.4 743.1,174.1 741.7,176.7 740.2,179.3 738.7,181.9 737.1,184.4 735.3,186.8 733.3,189.1 731.3,191.3 729.3,193.5 727.1,195.5 724.8,197.4 722.3,199.1 719.8,200.7 717.2,202.2 714.6,203.5 711.8,204.6 708.9,205.5 706.1,206.2 703.1,206.9 700.2,207.3 697.2,207.6 694.2,207.7 691.2,207.6 688.3,207.3 685.6,206.9 683.1,206.3 682.0,206.0"/><path id="p24d" d="M747.1,145.4 747.9,148.1 748.3,151.0 748.3,154.0 748.1,157.0 747.7,159.9 747.0,162.8 746.2,165.7 745.4,168.6 744.3,171.4 743.1,174.1 741.7,176.7 740.2,179.3 738.7,181.9 737.1,184.4 735.3,186.8 733.3,189.1 731.3,191.3 729.3,193.5 727.1,195.5 724.8,197.4 722.3,199.1 719.8,200.7 717.2,202.2 714.6,203.5 711.8,204.6 708.9,205.5 706.1,206.2 703.1,206.9 700.2,207.3 697.2,207.6 694.2,207.7 691.2,207.6 688.3,207.3 685.6,206.9 683.1,206.3 682.0,206.0"/><path id="p24t" d="M748.3,154.0 748.1,157.0 747.7,159.9 747.0,162.8 746.2,165.7 745.4,168.6 744.3,171.4 743.1,174.1 741.7,176.7 740.2,179.3 738.7,181.9 737.1,184.4 735.3,186.8 733.3,189.1 731.3,191.3 729.3,193.5 727.1,195.5 724.8,197.4 722.3,199.1 719.8,200.7 717.2,202.2 714.6,203.5 711.8,204.6 708.9,205.5 706.1,206.2 703.1,206.9 700.2,207.3 697.2,207.6 694.2,207.7 691.2,207.6"/><mask id="m23" maskUnits="userSpaceOnUse" x="600" y="60" width="300" height="290"><use href="#a23"/></mask><g id="a24"><use href="#a23"/><use href="#p24" fill="none" stroke="#fff" stroke-width="9.8" stroke-linecap="round"/></g></defs><use href="#p24t" stroke="#3a0a20" stroke-opacity="0.42" stroke-width="13.3" filter="url(#b2)" mask="url(#m23)" stroke-linecap="butt"/><use href="#p24d" stroke="#d9468f" stroke-width="9.8"/><circle cx="682.0" cy="206.0" r="4.90" fill="#d9468f" stroke="none"/><use href="#p24" stroke="#ee5b9f" stroke-width="8.4" transform="translate(-0.35,-0.45)"/><circle cx="682.0" cy="206.0" r="4.20" fill="#ee5b9f" stroke="none" transform="translate(-0.35,-0.45)"/><use href="#p24" stroke="#fab2d4" stroke-width="4.4" transform="translate(-0.90,-1.10)" opacity="0.48"/><circle cx="682.0" cy="206.0" r="2.20" fill="#fab2d4" stroke="none" transform="translate(-0.90,-1.10)" opacity="0.48"/><use href="#p24" stroke="#fab2d4" stroke-width="1.8" transform="translate(-1.30,-1.60)" opacity="0.50"/><circle cx="682.0" cy="206.0" r="0.88" fill="#fab2d4" stroke="none" transform="translate(-1.30,-1.60)" opacity="0.50"/></g>
<g fill="none" stroke-linejoin="round" stroke-linecap="butt"><defs><path id="p25" d="M780.4,311.6 783.4,311.2 786.3,310.7 789.2,310.0 792.1,309.2 794.9,308.2 797.6,307.0 800.2,305.5 802.6,303.8 805.0,302.0 807.2,300.0 809.3,297.9 811.3,295.6 813.1,293.3 814.8,290.8 816.5,288.4 818.1,285.8 819.5,283.2 820.7,280.5 821.9,277.7 822.9,274.9 823.8,272.0 824.5,269.1 825.2,266.2 825.8,263.3 826.4,260.3 826.8,257.4 827.0,254.4 827.3,251.4 827.4,248.4 827.4,245.4 827.2,242.4 826.9,239.5 826.4,236.5 825.7,233.7 824.7,230.9 823.5,228.1 822.2,225.5 820.6,222.9 819.0,220.4 817.3,217.9 815.6,215.5 813.8,213.1 812.0,210.7 810.2,208.3 808.4,205.9 806.6,203.5 804.8,201.1 803.2,198.9 801.7,196.9 801.0,196.0"/><path id="p25d" d="M780.4,311.6 783.4,311.2 786.3,310.7 789.2,310.0 792.1,309.2 794.9,308.2 797.6,307.0 800.2,305.5 802.6,303.8 805.0,302.0 807.2,300.0 809.3,297.9 811.3,295.6 813.1,293.3 814.8,290.8 816.5,288.4 818.1,285.8 819.5,283.2 820.7,280.5 821.9,277.7 822.9,274.9 823.8,272.0 824.5,269.1 825.2,266.2 825.8,263.3 826.4,260.3 826.8,257.4 827.0,254.4 827.3,251.4 827.4,248.4 827.4,245.4 827.2,242.4 826.9,239.5 826.4,236.5 825.7,233.7 824.7,230.9 823.5,228.1 822.2,225.5 820.6,222.9 819.0,220.4 817.3,217.9 815.6,215.5 813.8,213.1 812.0,210.7 810.2,208.3 808.4,205.9 806.6,203.5 804.8,201.1 803.2,198.9 801.7,196.9 801.0,196.0"/><path id="p25t" d="M792.1,309.2 794.9,308.2 797.6,307.0 800.2,305.5 802.6,303.8 805.0,302.0 807.2,300.0 809.3,297.9 811.3,295.6 813.1,293.3 814.8,290.8 816.5,288.4 818.1,285.8 819.5,283.2 820.7,280.5 821.9,277.7 822.9,274.9 823.8,272.0 824.5,269.1 825.2,266.2 825.8,263.3 826.4,260.3 826.8,257.4 827.0,254.4 827.3,251.4 827.4,248.4 827.4,245.4 827.2,242.4 826.9,239.5 826.4,236.5 825.7,233.7 824.7,230.9 823.5,228.1 822.2,225.5 820.6,222.9 819.0,220.4 817.3,217.9 815.6,215.5 813.8,213.1 812.0,210.7 810.2,208.3 808.4,205.9 806.6,203.5"/><mask id="m24" maskUnits="userSpaceOnUse" x="600" y="60" width="300" height="290"><use href="#a24"/></mask><g id="a25"><use href="#a24"/><use href="#p25" fill="none" stroke="#fff" stroke-width="9.8" stroke-linecap="round"/></g></defs><use href="#p25t" stroke="#3a0a20" stroke-opacity="0.42" stroke-width="13.3" filter="url(#b2)" mask="url(#m24)" stroke-linecap="butt"/><use href="#p25d" stroke="#d9468f" stroke-width="9.8"/><circle cx="780.4" cy="311.6" r="4.90" fill="#d9468f" stroke="none"/><circle cx="801.0" cy="196.0" r="4.90" fill="#d9468f" stroke="none"/><use href="#p25" stroke="#ee5b9f" stroke-width="8.4" transform="translate(-0.35,-0.45)"/><circle cx="780.4" cy="311.6" r="4.20" fill="#ee5b9f" stroke="none" transform="translate(-0.35,-0.45)"/><circle cx="801.0" cy="196.0" r="4.20" fill="#ee5b9f" stroke="none" transform="translate(-0.35,-0.45)"/><use href="#p25" stroke="#fab2d4" stroke-width="4.4" transform="translate(-0.90,-1.10)" opacity="0.48"/><circle cx="780.4" cy="311.6" r="2.20" fill="#fab2d4" stroke="none" transform="translate(-0.90,-1.10)" opacity="0.48"/><circle cx="801.0" cy="196.0" r="2.20" fill="#fab2d4" stroke="none" transform="translate(-0.90,-1.10)" opacity="0.48"/><use href="#p25" stroke="#fab2d4" stroke-width="1.8" transform="translate(-1.30,-1.60)" opacity="0.50"/><circle cx="780.4" cy="311.6" r="0.88" fill="#fab2d4" stroke="none" transform="translate(-1.30,-1.60)" opacity="0.50"/><circle cx="801.0" cy="196.0" r="0.88" fill="#fab2d4" stroke="none" transform="translate(-1.30,-1.60)" opacity="0.50"/></g>
<g fill="none" stroke-linejoin="round" stroke-linecap="butt"><defs><path id="p26" d="M739.0,195.4 740.0,198.2 741.0,201.1 742.0,203.9 743.1,206.7 744.3,209.4 745.5,212.2 746.8,214.9 748.1,217.6 749.5,220.2 750.9,222.9 752.2,225.6 753.6,228.3 754.8,231.0 756.2,233.7 757.5,236.3 758.9,239.0 760.4,241.6 762.0,244.1 763.6,246.7 765.3,249.2 767.0,251.6 768.8,254.0 770.6,256.4 772.5,258.7 774.3,261.1 776.0,263.6 777.6,266.1 779.1,268.7 780.5,271.3 782.0,273.9 783.4,276.6 784.9,279.2 786.5,281.7 788.1,284.2 789.9,286.7"/><path id="p26d" d="M739.0,195.4 740.0,198.2 741.0,201.1 742.0,203.9 743.1,206.7 744.3,209.4 745.5,212.2 746.8,214.9 748.1,217.6 749.5,220.2 750.9,222.9 752.2,225.6 753.6,228.3 754.8,231.0 756.2,233.7 757.5,236.3 758.9,239.0 760.4,241.6 762.0,244.1 763.6,246.7 765.3,249.2 767.0,251.6 768.8,254.0 770.6,256.4 772.5,258.7 774.3,261.1 776.0,263.6 777.6,266.1 779.1,268.7 780.5,271.3 782.0,273.9 783.4,276.6 784.9,279.2 786.5,281.7 788.1,284.2 789.9,286.7"/><path id="p26t" d="M743.1,206.7 744.3,209.4 745.5,212.2 746.8,214.9 748.1,217.6 749.5,220.2 750.9,222.9 752.2,225.6 753.6,228.3 754.8,231.0 756.2,233.7 757.5,236.3 758.9,239.0 760.4,241.6 762.0,244.1 763.6,246.7 765.3,249.2 767.0,251.6 768.8,254.0 770.6,256.4 772.5,258.7 774.3,261.1 776.0,263.6 777.6,266.1 779.1,268.7 780.5,271.3 782.0,273.9 783.4,276.6"/><mask id="m25" maskUnits="userSpaceOnUse" x="600" y="60" width="300" height="290"><use href="#a25"/></mask><g id="a26"><use href="#a25"/><use href="#p26" fill="none" stroke="#fff" stroke-width="9.8" stroke-linecap="round"/></g></defs><use href="#p26t" stroke="#3a0a20" stroke-opacity="0.42" stroke-width="13.3" filter="url(#b2)" mask="url(#m25)" stroke-linecap="butt"/><use href="#p26d" stroke="#d9468f" stroke-width="9.8"/><circle cx="739.0" cy="195.4" r="4.90" fill="#d9468f" stroke="none"/><use href="#p26" stroke="#ee5b9f" stroke-width="8.4" transform="translate(-0.35,-0.45)"/><circle cx="739.0" cy="195.4" r="4.20" fill="#ee5b9f" stroke="none" transform="translate(-0.35,-0.45)"/><use href="#p26" stroke="#fab2d4" stroke-width="4.4" transform="translate(-0.90,-1.10)" opacity="0.48"/><circle cx="739.0" cy="195.4" r="2.20" fill="#fab2d4" stroke="none" transform="translate(-0.90,-1.10)" opacity="0.48"/><use href="#p26" stroke="#fab2d4" stroke-width="1.8" transform="translate(-1.30,-1.60)" opacity="0.50"/><circle cx="739.0" cy="195.4" r="0.88" fill="#fab2d4" stroke="none" transform="translate(-1.30,-1.60)" opacity="0.50"/></g><g fill="none" stroke-linejoin="round" stroke-linecap="butt"><defs><path id="p27" d="M786.5,281.7 788.1,284.2 789.9,286.7 791.6,289.1 793.5,291.5 795.3,293.8 797.3,296.1 799.3,298.3 801.4,300.4 803.5,302.4 805.9,304.1 808.5,305.3 811.3,306.2 814.2,306.6 817.1,306.6 820.0,306.2 822.9,305.6 825.8,304.8 828.5,303.7 831.0,302.2 833.4,300.4 835.6,298.5 837.8,296.4 839.7,294.1 841.3,291.7 842.6,289.0 843.8,286.3 844.9,283.5 845.8,280.7 846.3,277.8 846.6,274.8 846.6,271.8 846.3,268.9 845.7,266.1 844.5,263.6 842.8,261.3 840.7,259.5 838.2,258.2"/><path id="p27d" d="M788.1,284.2 789.9,286.7 791.6,289.1 793.5,291.5 795.3,293.8 797.3,296.1 799.3,298.3 801.4,300.4 803.5,302.4 805.9,304.1 808.5,305.3 811.3,306.2 814.2,306.6 817.1,306.6 820.0,306.2 822.9,305.6 825.8,304.8 828.5,303.7 831.0,302.2 833.4,300.4 835.6,298.5 837.8,296.4 839.7,294.1 841.3,291.7 842.6,289.0 843.8,286.3 844.9,283.5 845.8,280.7 846.3,277.8 846.6,274.8 846.6,271.8 846.3,268.9 845.7,266.1 844.5,263.6 842.8,261.3 840.7,259.5 838.2,258.2"/><path id="p27t" d="M793.5,291.5 795.3,293.8 797.3,296.1 799.3,298.3 801.4,300.4 803.5,302.4 805.9,304.1 808.5,305.3 811.3,306.2 814.2,306.6 817.1,306.6 820.0,306.2 822.9,305.6 825.8,304.8 828.5,303.7 831.0,302.2 833.4,300.4 835.6,298.5 837.8,296.4 839.7,294.1 841.3,291.7 842.6,289.0 843.8,286.3 844.9,283.5 845.8,280.7 846.3,277.8 846.6,274.8 846.6,271.8 846.3,268.9 845.7,266.1"/><mask id="m26" maskUnits="userSpaceOnUse" x="600" y="60" width="300" height="290"><use href="#a26"/></mask><g id="a27"><use href="#a26"/><use href="#p27" fill="none" stroke="#fff" stroke-width="9.8" stroke-linecap="round"/></g></defs><use href="#p27t" stroke="#3a0a20" stroke-opacity="0.42" stroke-width="13.3" filter="url(#b2)" mask="url(#m26)" stroke-linecap="butt"/><use href="#p27d" stroke="#d9468f" stroke-width="9.8"/><use href="#p27" stroke="#ee5b9f" stroke-width="8.4" transform="translate(-0.35,-0.45)"/><use href="#p27" stroke="#fab2d4" stroke-width="4.4" transform="translate(-0.90,-1.10)" opacity="0.48"/><use href="#p27" stroke="#fab2d4" stroke-width="1.8" transform="translate(-1.30,-1.60)" opacity="0.50"/></g><g fill="none" stroke-linejoin="round" stroke-linecap="butt"><defs><path id="p28" d="M842.8,261.3 840.7,259.5 838.2,258.2 835.4,257.4 832.4,257.0 829.5,256.9 826.5,257.1 823.6,257.5 820.6,257.9 817.7,258.5 814.8,259.2 811.9,260.1 809.1,261.0 806.2,262.0 803.4,263.0 800.6,264.0 797.9,265.3 795.3,266.7 792.7,268.3 790.3,270.0 788.1,272.0 786.1,274.2 784.4,276.5 782.7,279.0 781.2,281.6 779.7,284.2 778.4,286.9 777.1,289.6 775.8,292.3 774.5,295.0 773.1,297.6 771.5,300.2 769.8,302.6 767.8,304.7 765.6,306.5 763.0,307.7 760.3,308.1 757.6,307.8"/><path id="p28d" d="M840.7,259.5 838.2,258.2 835.4,257.4 832.4,257.0 829.5,256.9 826.5,257.1 823.6,257.5 820.6,257.9 817.7,258.5 814.8,259.2 811.9,260.1 809.1,261.0 806.2,262.0 803.4,263.0 800.6,264.0 797.9,265.3 795.3,266.7 792.7,268.3 790.3,270.0 788.1,272.0 786.1,274.2 784.4,276.5 782.7,279.0 781.2,281.6 779.7,284.2 778.4,286.9 777.1,289.6 775.8,292.3 774.5,295.0 773.1,297.6 771.5,300.2 769.8,302.6 767.8,304.7 765.6,306.5 763.0,307.7 760.3,308.1 757.6,307.8"/><path id="p28t" d="M832.4,257.0 829.5,256.9 826.5,257.1 823.6,257.5 820.6,257.9 817.7,258.5 814.8,259.2 811.9,260.1 809.1,261.0 806.2,262.0 803.4,263.0 800.6,264.0 797.9,265.3 795.3,266.7 792.7,268.3 790.3,270.0 788.1,272.0 786.1,274.2 784.4,276.5 782.7,279.0 781.2,281.6 779.7,284.2 778.4,286.9 777.1,289.6 775.8,292.3 774.5,295.0 773.1,297.6 771.5,300.2 769.8,302.6 767.8,304.7"/><mask id="m27" maskUnits="userSpaceOnUse" x="600" y="60" width="300" height="290"><use href="#a27"/></mask><g id="a28"><use href="#a27"/><use href="#p28" fill="none" stroke="#fff" stroke-width="9.8" stroke-linecap="round"/></g></defs><use href="#p28t" stroke="#3a0a20" stroke-opacity="0.42" stroke-width="13.3" filter="url(#b2)" mask="url(#m27)" stroke-linecap="butt"/><use href="#p28d" stroke="#d9468f" stroke-width="9.8"/><use href="#p28" stroke="#ee5b9f" stroke-width="8.4" transform="translate(-0.35,-0.45)"/><use href="#p28" stroke="#fab2d4" stroke-width="4.4" transform="translate(-0.90,-1.10)" opacity="0.48"/><use href="#p28" stroke="#fab2d4" stroke-width="1.8" transform="translate(-1.30,-1.60)" opacity="0.50"/></g><g fill="none" stroke-linejoin="round" stroke-linecap="butt"><defs><path id="p29" d="M763.0,307.7 760.3,308.1 757.6,307.8 754.9,306.8 752.5,305.3 750.3,303.4 748.5,301.1 747.1,298.6 746.0,295.8 745.2,293.0 744.8,290.1 744.6,287.1 744.5,284.1 744.6,281.1 744.9,278.2 745.5,275.3 746.4,272.5 747.4,269.7 748.9,267.3 750.8,265.2 753.2,263.5 755.7,262.0 758.5,260.9 761.3,260.0 764.2,259.2 767.1,258.5 770.0,257.7 772.9,257.0 775.8,256.3 778.8,255.7 781.7,255.2 784.6,254.6 787.6,254.0 790.5,253.3 793.3,252.5 796.1,251.4 798.8,250.2 801.4,248.8"/><path id="p29d" d="M760.3,308.1 757.6,307.8 754.9,306.8 752.5,305.3 750.3,303.4 748.5,301.1 747.1,298.6 746.0,295.8 745.2,293.0 744.8,290.1 744.6,287.1 744.5,284.1 744.6,281.1 744.9,278.2 745.5,275.3 746.4,272.5 747.4,269.7 748.9,267.3 750.8,265.2 753.2,263.5 755.7,262.0 758.5,260.9 761.3,260.0 764.2,259.2 767.1,258.5 770.0,257.7 772.9,257.0 775.8,256.3 778.8,255.7 781.7,255.2 784.6,254.6 787.6,254.0 790.5,253.3 793.3,252.5 796.1,251.4 798.8,250.2 801.4,248.8"/><path id="p29t" d="M752.5,305.3 750.3,303.4 748.5,301.1 747.1,298.6 746.0,295.8 745.2,293.0 744.8,290.1 744.6,287.1 744.5,284.1 744.6,281.1 744.9,278.2 745.5,275.3 746.4,272.5 747.4,269.7 748.9,267.3 750.8,265.2 753.2,263.5 755.7,262.0 758.5,260.9 761.3,260.0 764.2,259.2 767.1,258.5 770.0,257.7 772.9,257.0 775.8,256.3 778.8,255.7 781.7,255.2 784.6,254.6 787.6,254.0 790.5,253.3"/><mask id="m28" maskUnits="userSpaceOnUse" x="600" y="60" width="300" height="290"><use href="#a28"/></mask><g id="a29"><use href="#a28"/><use href="#p29" fill="none" stroke="#fff" stroke-width="9.8" stroke-linecap="round"/></g></defs><use href="#p29t" stroke="#3a0a20" stroke-opacity="0.42" stroke-width="13.3" filter="url(#b2)" mask="url(#m28)" stroke-linecap="butt"/><use href="#p29d" stroke="#d9468f" stroke-width="9.8"/><use href="#p29" stroke="#ee5b9f" stroke-width="8.4" transform="translate(-0.35,-0.45)"/><use href="#p29" stroke="#fab2d4" stroke-width="4.4" transform="translate(-0.90,-1.10)" opacity="0.48"/><use href="#p29" stroke="#fab2d4" stroke-width="1.8" transform="translate(-1.30,-1.60)" opacity="0.50"/></g><g fill="none" stroke-linejoin="round" stroke-linecap="butt"><defs><path id="p30" d="M796.1,251.4 798.8,250.2 801.4,248.8 804.1,247.3 806.7,245.9 809.4,244.7 812.2,243.6 815.0,242.6 817.9,241.8 820.8,241.2 823.8,240.8 826.8,240.5 829.7,240.1 832.6,239.6 835.3,238.7 837.6,237.3 839.4,235.2 840.7,232.6 841.4,229.8 841.7,226.9 841.6,224.0 841.2,221.1 840.4,218.2 839.2,215.5 837.8,213.0 836.0,210.6 833.9,208.6 831.5,206.8 829.0,205.3 826.3,204.2 823.5,203.4 820.6,202.7 817.7,202.1 814.7,201.9 811.7,201.8 808.7,202.0 805.8,202.4 802.9,203.0"/><path id="p30d" d="M798.8,250.2 801.4,248.8 804.1,247.3 806.7,245.9 809.4,244.7 812.2,243.6 815.0,242.6 817.9,241.8 820.8,241.2 823.8,240.8 826.8,240.5 829.7,240.1 832.6,239.6 835.3,238.7 837.6,237.3 839.4,235.2 840.7,232.6 841.4,229.8 841.7,226.9 841.6,224.0 841.2,221.1 840.4,218.2 839.2,215.5 837.8,213.0 836.0,210.6 833.9,208.6 831.5,206.8 829.0,205.3 826.3,204.2 823.5,203.4 820.6,202.7 817.7,202.1 814.7,201.9 811.7,201.8 808.7,202.0 805.8,202.4 802.9,203.0"/><path id="p30t" d="M806.7,245.9 809.4,244.7 812.2,243.6 815.0,242.6 817.9,241.8 820.8,241.2 823.8,240.8 826.8,240.5 829.7,240.1 832.6,239.6 835.3,238.7 837.6,237.3 839.4,235.2 840.7,232.6 841.4,229.8 841.7,226.9 841.6,224.0 841.2,221.1 840.4,218.2 839.2,215.5 837.8,213.0 836.0,210.6 833.9,208.6 831.5,206.8 829.0,205.3 826.3,204.2 823.5,203.4 820.6,202.7 817.7,202.1 814.7,201.9"/><mask id="m29" maskUnits="userSpaceOnUse" x="600" y="60" width="300" height="290"><use href="#a29"/></mask><g id="a30"><use href="#a29"/><use href="#p30" fill="none" stroke="#fff" stroke-width="9.8" stroke-linecap="round"/></g></defs><use href="#p30t" stroke="#3a0a20" stroke-opacity="0.42" stroke-width="13.3" filter="url(#b2)" mask="url(#m29)" stroke-linecap="butt"/><use href="#p30d" stroke="#d9468f" stroke-width="9.8"/><use href="#p30" stroke="#ee5b9f" stroke-width="8.4" transform="translate(-0.35,-0.45)"/><use href="#p30" stroke="#fab2d4" stroke-width="4.4" transform="translate(-0.90,-1.10)" opacity="0.48"/><use href="#p30" stroke="#fab2d4" stroke-width="1.8" transform="translate(-1.30,-1.60)" opacity="0.50"/></g><g fill="none" stroke-linejoin="round" stroke-linecap="butt"><defs><path id="p31" d="M808.7,202.0 805.8,202.4 802.9,203.0 800.0,203.8 797.2,204.9 794.5,206.1 791.8,207.3 789.0,208.5 786.4,209.9 783.9,211.5 781.4,213.2 779.1,215.1 776.8,217.0 774.6,219.0 772.5,221.1 770.4,223.3 768.4,225.5 766.3,227.7 764.3,229.9 762.3,232.2 760.4,234.5 758.6,236.8 756.8,239.3 755.1,241.7 753.5,244.2 752.0,246.8 750.6,249.5 749.3,252.2 748.0,254.9 746.7,257.5 745.1,260.0 743.3,262.2 741.0,263.6 738.6,264.2 736.2,263.6 734.3,261.9 732.9,259.6 732.1,256.9"/><path id="p31d" d="M805.8,202.4 802.9,203.0 800.0,203.8 797.2,204.9 794.5,206.1 791.8,207.3 789.0,208.5 786.4,209.9 783.9,211.5 781.4,213.2 779.1,215.1 776.8,217.0 774.6,219.0 772.5,221.1 770.4,223.3 768.4,225.5 766.3,227.7 764.3,229.9 762.3,232.2 760.4,234.5 758.6,236.8 756.8,239.3 755.1,241.7 753.5,244.2 752.0,246.8 750.6,249.5 749.3,252.2 748.0,254.9 746.7,257.5 745.1,260.0 743.3,262.2 741.0,263.6 738.6,264.2 736.2,263.6 734.3,261.9 732.9,259.6 732.1,256.9"/><path id="p31t" d="M797.2,204.9 794.5,206.1 791.8,207.3 789.0,208.5 786.4,209.9 783.9,211.5 781.4,213.2 779.1,215.1 776.8,217.0 774.6,219.0 772.5,221.1 770.4,223.3 768.4,225.5 766.3,227.7 764.3,229.9 762.3,232.2 760.4,234.5 758.6,236.8 756.8,239.3 755.1,241.7 753.5,244.2 752.0,246.8 750.6,249.5 749.3,252.2 748.0,254.9 746.7,257.5 745.1,260.0 743.3,262.2 741.0,263.6 738.6,264.2"/><mask id="m30" maskUnits="userSpaceOnUse" x="600" y="60" width="300" height="290"><use href="#a30"/></mask><g id="a31"><use href="#a30"/><use href="#p31" fill="none" stroke="#fff" stroke-width="9.8" stroke-linecap="round"/></g></defs><use href="#p31t" stroke="#3a0a20" stroke-opacity="0.42" stroke-width="13.3" filter="url(#b2)" mask="url(#m30)" stroke-linecap="butt"/><use href="#p31d" stroke="#d9468f" stroke-width="9.8"/><use href="#p31" stroke="#ee5b9f" stroke-width="8.4" transform="translate(-0.35,-0.45)"/><use href="#p31" stroke="#fab2d4" stroke-width="4.4" transform="translate(-0.90,-1.10)" opacity="0.48"/><use href="#p31" stroke="#fab2d4" stroke-width="1.8" transform="translate(-1.30,-1.60)" opacity="0.50"/></g><g fill="none" stroke-linejoin="round" stroke-linecap="butt"><defs><path id="p32" d="M734.3,261.9 732.9,259.6 732.1,256.9 731.7,254.0 731.7,251.0 731.9,248.0 732.3,245.1 733.0,242.2 733.8,239.3 734.6,236.4 735.7,233.6 736.9,230.9 738.3,228.3 739.8,225.7 741.3,223.1 742.9,220.6 744.7,218.2 746.7,215.9 748.7,213.7 750.7,211.5 752.9,209.5 755.2,207.6 757.7,205.9 760.2,204.3 762.8,202.8 765.4,201.5 768.2,200.4 771.1,199.5 773.9,198.8 776.9,198.1 779.8,197.7 782.8,197.4 785.8,197.3 788.8,197.4 791.7,197.7 794.4,198.1 796.9,198.7 798.0,199.0"/><path id="p32d" d="M732.9,259.6 732.1,256.9 731.7,254.0 731.7,251.0 731.9,248.0 732.3,245.1 733.0,242.2 733.8,239.3 734.6,236.4 735.7,233.6 736.9,230.9 738.3,228.3 739.8,225.7 741.3,223.1 742.9,220.6 744.7,218.2 746.7,215.9 748.7,213.7 750.7,211.5 752.9,209.5 755.2,207.6 757.7,205.9 760.2,204.3 762.8,202.8 765.4,201.5 768.2,200.4 771.1,199.5 773.9,198.8 776.9,198.1 779.8,197.7 782.8,197.4 785.8,197.3 788.8,197.4 791.7,197.7 794.4,198.1 796.9,198.7 798.0,199.0"/><path id="p32t" d="M731.7,251.0 731.9,248.0 732.3,245.1 733.0,242.2 733.8,239.3 734.6,236.4 735.7,233.6 736.9,230.9 738.3,228.3 739.8,225.7 741.3,223.1 742.9,220.6 744.7,218.2 746.7,215.9 748.7,213.7 750.7,211.5 752.9,209.5 755.2,207.6 757.7,205.9 760.2,204.3 762.8,202.8 765.4,201.5 768.2,200.4 771.1,199.5 773.9,198.8 776.9,198.1 779.8,197.7 782.8,197.4 785.8,197.3 788.8,197.4"/><mask id="m31" maskUnits="userSpaceOnUse" x="600" y="60" width="300" height="290"><use href="#a31"/></mask><g id="a32"><use href="#a31"/><use href="#p32" fill="none" stroke="#fff" stroke-width="9.8" stroke-linecap="round"/></g></defs><use href="#p32t" stroke="#3a0a20" stroke-opacity="0.42" stroke-width="13.3" filter="url(#b2)" mask="url(#m31)" stroke-linecap="butt"/><use href="#p32d" stroke="#d9468f" stroke-width="9.8"/><circle cx="798.0" cy="199.0" r="4.90" fill="#d9468f" stroke="none"/><use href="#p32" stroke="#ee5b9f" stroke-width="8.4" transform="translate(-0.35,-0.45)"/><circle cx="798.0" cy="199.0" r="4.20" fill="#ee5b9f" stroke="none" transform="translate(-0.35,-0.45)"/><use href="#p32" stroke="#fab2d4" stroke-width="4.4" transform="translate(-0.90,-1.10)" opacity="0.48"/><circle cx="798.0" cy="199.0" r="2.20" fill="#fab2d4" stroke="none" transform="translate(-0.90,-1.10)" opacity="0.48"/><use href="#p32" stroke="#fab2d4" stroke-width="1.8" transform="translate(-1.30,-1.60)" opacity="0.50"/><circle cx="798.0" cy="199.0" r="0.88" fill="#fab2d4" stroke="none" transform="translate(-1.30,-1.60)" opacity="0.50"/></g>
<g transform="translate(688.0,168.9) scale(1,1)"><path d="M-19.8,-7.6 C-17,-2 -13,3.5 -2.4,8.1 C4,10.6 12,10.4 18.6,9.3" fill="none" stroke="#33289a" stroke-width="1.3" stroke-linecap="round"/><ellipse cx="0" cy="0.3" rx="7.1" ry="5.7" fill="url(#redball)"/><ellipse cx="-1.5" cy="4.8" rx="11" ry="2.6" transform="rotate(18 -1.5 4.8)" fill="url(#purp)"/><circle cx="2.1" cy="-5.9" r="4.8" fill="url(#yelball)"/></g>
<g transform="translate(788.9,169.5) scale(-1,1)"><path d="M-19.8,-7.6 C-17,-2 -13,3.5 -2.4,8.1 C4,10.6 12,10.4 18.6,9.3" fill="none" stroke="#33289a" stroke-width="1.3" stroke-linecap="round"/><ellipse cx="0" cy="0.3" rx="7.1" ry="5.7" fill="url(#redball)"/><ellipse cx="-1.5" cy="4.8" rx="11" ry="2.6" transform="rotate(18 -1.5 4.8)" fill="url(#purp)"/><circle cx="2.1" cy="-5.9" r="4.8" fill="url(#yelball)"/></g>
<g transform="translate(692.0,235.0) scale(-1,1)"><ellipse cx="-0.8" cy="2.4" rx="13.7" ry="7.8" transform="rotate(15 -0.8 2.4)" fill="url(#ringf)" stroke="#6b3038" stroke-width="0.7"/><path d="M-19.8,-7.6 C-17,-2 -13,3.5 -2.4,8.1 C4,10.6 12,10.4 18.6,9.3" fill="none" stroke="#33289a" stroke-width="1.3" stroke-linecap="round"/><ellipse cx="0" cy="0.3" rx="7.1" ry="5.7" fill="url(#redball)"/><ellipse cx="-1.5" cy="4.8" rx="11" ry="2.6" transform="rotate(18 -1.5 4.8)" fill="url(#purp)"/><circle cx="2.1" cy="-5.9" r="4.8" fill="url(#yelball)"/></g>
<g transform="translate(784.7,235.0) scale(1,1)"><path d="M-19.8,-7.6 C-17,-2 -13,3.5 -2.4,8.1 C4,10.6 12,10.4 18.6,9.3" fill="none" stroke="#33289a" stroke-width="1.3" stroke-linecap="round"/><ellipse cx="0" cy="0.3" rx="7.1" ry="5.7" fill="url(#redball)"/><ellipse cx="-1.5" cy="4.8" rx="11" ry="2.6" transform="rotate(18 -1.5 4.8)" fill="url(#purp)"/><circle cx="2.1" cy="-5.9" r="4.8" fill="url(#yelball)"/></g>
<g stroke="#8a8a92" stroke-width="0.8" fill="none"><path d="M834.6,58.5 L800.5,103"/><path d="M897.6,113.5 L808.5,161"/><path d="M898.9,236.6 L791.5,229.8"/><path d="M589.3,320.9 L684.5,247"/></g>
</svg></body></html>
